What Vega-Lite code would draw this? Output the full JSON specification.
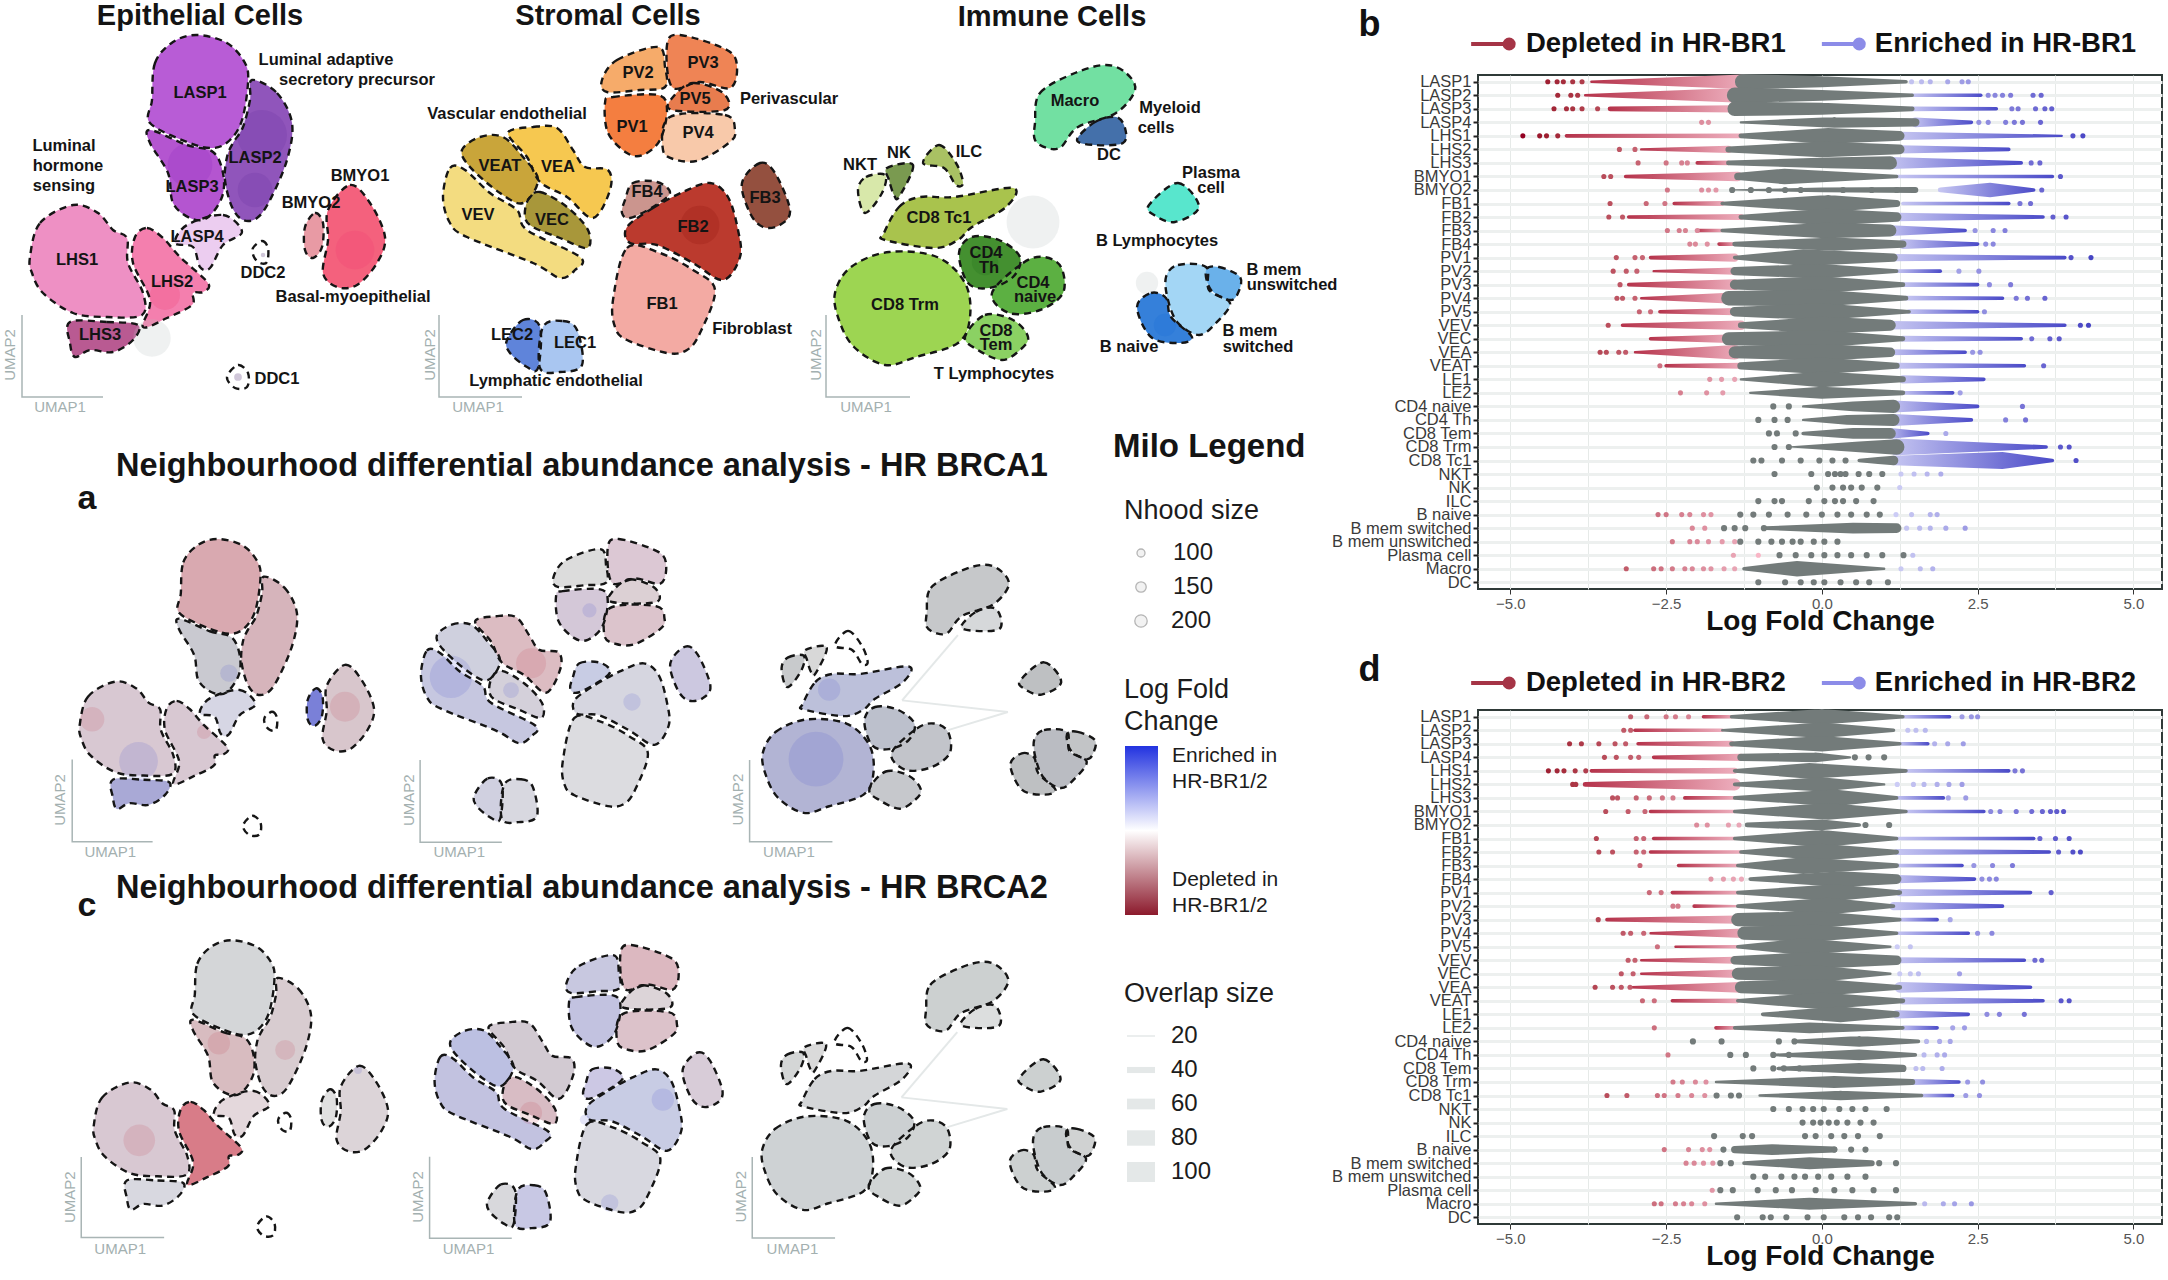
{"$schema":"https://vega.github.io/schema/vega-lite/v6.json","padding":0,"background":"white","config":{"font":"Liberation Sans","view":{"stroke":null},"legend":{"disable":true}},"datasets":{"outlines":[
{"group":"epi","region":"LASP1","n":1,"x":152,"y":100},{"group":"epi","region":"LASP1","n":2,"x":155,"y":63},{"group":"epi","region":"LASP1","n":3,"x":173,"y":42},{"group":"epi","region":"LASP1","n":4,"x":197,"y":35},{"group":"epi","region":"LASP1","n":5,"x":227,"y":43},{"group":"epi","region":"LASP1","n":6,"x":245,"y":63},{"group":"epi","region":"LASP1","n":7,"x":248,"y":83},{"group":"epi","region":"LASP1","n":8,"x":242,"y":120},{"group":"epi","region":"LASP1","n":9,"x":230,"y":140},{"group":"epi","region":"LASP1","n":10,"x":213,"y":148},{"group":"epi","region":"LASP1","n":11,"x":187,"y":142},{"group":"epi","region":"LASP1","n":12,"x":150,"y":123},
{"group":"epi","region":"LASP2","n":1,"x":252,"y":80},{"group":"epi","region":"LASP2","n":2,"x":277,"y":93},{"group":"epi","region":"LASP2","n":3,"x":292,"y":123},{"group":"epi","region":"LASP2","n":4,"x":287,"y":160},{"group":"epi","region":"LASP2","n":5,"x":270,"y":200},{"group":"epi","region":"LASP2","n":6,"x":257,"y":218},{"group":"epi","region":"LASP2","n":7,"x":243,"y":220},{"group":"epi","region":"LASP2","n":8,"x":232,"y":207},{"group":"epi","region":"LASP2","n":9,"x":225,"y":180},{"group":"epi","region":"LASP2","n":10,"x":227,"y":157},{"group":"epi","region":"LASP2","n":11,"x":233,"y":143},{"group":"epi","region":"LASP2","n":12,"x":243,"y":127},{"group":"epi","region":"LASP2","n":13,"x":250,"y":100},
{"group":"epi","region":"LASP3","n":1,"x":150,"y":130},{"group":"epi","region":"LASP3","n":2,"x":187,"y":145},{"group":"epi","region":"LASP3","n":3,"x":213,"y":152},{"group":"epi","region":"LASP3","n":4,"x":223,"y":173},{"group":"epi","region":"LASP3","n":5,"x":222,"y":197},{"group":"epi","region":"LASP3","n":6,"x":207,"y":218},{"group":"epi","region":"LASP3","n":7,"x":190,"y":218},{"group":"epi","region":"LASP3","n":8,"x":173,"y":203},{"group":"epi","region":"LASP3","n":9,"x":168,"y":173},{"group":"epi","region":"LASP3","n":10,"x":150,"y":143},
{"group":"epi","region":"LASP4","n":1,"x":187,"y":225},{"group":"epi","region":"LASP4","n":2,"x":223,"y":215},{"group":"epi","region":"LASP4","n":3,"x":242,"y":232},{"group":"epi","region":"LASP4","n":4,"x":223,"y":245},{"group":"epi","region":"LASP4","n":5,"x":210,"y":268},{"group":"epi","region":"LASP4","n":6,"x":200,"y":267},{"group":"epi","region":"LASP4","n":7,"x":193,"y":247},{"group":"epi","region":"LASP4","n":8,"x":175,"y":243},
{"group":"epi","region":"LHS1","n":1,"x":30,"y":257},{"group":"epi","region":"LHS1","n":2,"x":40,"y":223},{"group":"epi","region":"LHS1","n":3,"x":73,"y":205},{"group":"epi","region":"LHS1","n":4,"x":98,"y":213},{"group":"epi","region":"LHS1","n":5,"x":113,"y":230},{"group":"epi","region":"LHS1","n":6,"x":127,"y":238},{"group":"epi","region":"LHS1","n":7,"x":128,"y":263},{"group":"epi","region":"LHS1","n":8,"x":143,"y":293},{"group":"epi","region":"LHS1","n":9,"x":142,"y":315},{"group":"epi","region":"LHS1","n":10,"x":107,"y":317},{"group":"epi","region":"LHS1","n":11,"x":73,"y":313},{"group":"epi","region":"LHS1","n":12,"x":43,"y":293},{"group":"epi","region":"LHS1","n":13,"x":32,"y":273},
{"group":"epi","region":"LHS2","n":1,"x":135,"y":237},{"group":"epi","region":"LHS2","n":2,"x":147,"y":228},{"group":"epi","region":"LHS2","n":3,"x":163,"y":238},{"group":"epi","region":"LHS2","n":4,"x":180,"y":257},{"group":"epi","region":"LHS2","n":5,"x":208,"y":283},{"group":"epi","region":"LHS2","n":6,"x":203,"y":292},{"group":"epi","region":"LHS2","n":7,"x":193,"y":293},{"group":"epi","region":"LHS2","n":8,"x":192,"y":305},{"group":"epi","region":"LHS2","n":9,"x":167,"y":318},{"group":"epi","region":"LHS2","n":10,"x":143,"y":327},{"group":"epi","region":"LHS2","n":11,"x":150,"y":300},{"group":"epi","region":"LHS2","n":12,"x":133,"y":263},
{"group":"epi","region":"LHS3","n":1,"x":70,"y":322},{"group":"epi","region":"LHS3","n":2,"x":107,"y":322},{"group":"epi","region":"LHS3","n":3,"x":138,"y":325},{"group":"epi","region":"LHS3","n":4,"x":133,"y":340},{"group":"epi","region":"LHS3","n":5,"x":113,"y":352},{"group":"epi","region":"LHS3","n":6,"x":90,"y":350},{"group":"epi","region":"LHS3","n":7,"x":75,"y":357},{"group":"epi","region":"LHS3","n":8,"x":70,"y":343},
{"group":"epi","region":"BMYO1","n":1,"x":328,"y":210},{"group":"epi","region":"BMYO1","n":2,"x":350,"y":185},{"group":"epi","region":"BMYO1","n":3,"x":370,"y":203},{"group":"epi","region":"BMYO1","n":4,"x":385,"y":237},{"group":"epi","region":"BMYO1","n":5,"x":377,"y":263},{"group":"epi","region":"BMYO1","n":6,"x":357,"y":285},{"group":"epi","region":"BMYO1","n":7,"x":337,"y":287},{"group":"epi","region":"BMYO1","n":8,"x":323,"y":273},{"group":"epi","region":"BMYO1","n":9,"x":328,"y":240},
{"group":"epi","region":"BMYO2","n":1,"x":305,"y":227},{"group":"epi","region":"BMYO2","n":2,"x":315,"y":213},{"group":"epi","region":"BMYO2","n":3,"x":323,"y":223},{"group":"epi","region":"BMYO2","n":4,"x":322,"y":247},{"group":"epi","region":"BMYO2","n":5,"x":313,"y":258},{"group":"epi","region":"BMYO2","n":6,"x":305,"y":250},
{"group":"epi","region":"DDC2","n":1,"x":253,"y":248},{"group":"epi","region":"DDC2","n":2,"x":262,"y":241},{"group":"epi","region":"DDC2","n":3,"x":268,"y":248},{"group":"epi","region":"DDC2","n":4,"x":267,"y":262},{"group":"epi","region":"DDC2","n":5,"x":260,"y":263},{"group":"epi","region":"DDC2","n":6,"x":254,"y":257},
{"group":"epi","region":"DDC1","n":1,"x":227,"y":377},{"group":"epi","region":"DDC1","n":2,"x":238,"y":365},{"group":"epi","region":"DDC1","n":3,"x":248,"y":373},{"group":"epi","region":"DDC1","n":4,"x":247,"y":387},{"group":"epi","region":"DDC1","n":5,"x":235,"y":388},
{"group":"str","region":"VEV","n":1,"x":443,"y":197},{"group":"str","region":"VEV","n":2,"x":450,"y":168},{"group":"str","region":"VEV","n":3,"x":465,"y":170},{"group":"str","region":"VEV","n":4,"x":490,"y":193},{"group":"str","region":"VEV","n":5,"x":517,"y":210},{"group":"str","region":"VEV","n":6,"x":527,"y":230},{"group":"str","region":"VEV","n":7,"x":580,"y":257},{"group":"str","region":"VEV","n":8,"x":575,"y":270},{"group":"str","region":"VEV","n":9,"x":560,"y":278},{"group":"str","region":"VEV","n":10,"x":533,"y":263},{"group":"str","region":"VEV","n":11,"x":467,"y":237},{"group":"str","region":"VEV","n":12,"x":450,"y":223},
{"group":"str","region":"VEAT","n":1,"x":462,"y":150},{"group":"str","region":"VEAT","n":2,"x":480,"y":137},{"group":"str","region":"VEAT","n":3,"x":503,"y":137},{"group":"str","region":"VEAT","n":4,"x":523,"y":157},{"group":"str","region":"VEAT","n":5,"x":538,"y":180},{"group":"str","region":"VEAT","n":6,"x":523,"y":203},{"group":"str","region":"VEAT","n":7,"x":500,"y":193},{"group":"str","region":"VEAT","n":8,"x":470,"y":167},
{"group":"str","region":"VEA","n":1,"x":508,"y":133},{"group":"str","region":"VEA","n":2,"x":533,"y":127},{"group":"str","region":"VEA","n":3,"x":557,"y":128},{"group":"str","region":"VEA","n":4,"x":573,"y":150},{"group":"str","region":"VEA","n":5,"x":585,"y":167},{"group":"str","region":"VEA","n":6,"x":608,"y":170},{"group":"str","region":"VEA","n":7,"x":610,"y":190},{"group":"str","region":"VEA","n":8,"x":593,"y":218},{"group":"str","region":"VEA","n":9,"x":567,"y":197},{"group":"str","region":"VEA","n":10,"x":540,"y":182},{"group":"str","region":"VEA","n":11,"x":527,"y":157},
{"group":"str","region":"VEC","n":1,"x":528,"y":200},{"group":"str","region":"VEC","n":2,"x":540,"y":192},{"group":"str","region":"VEC","n":3,"x":567,"y":207},{"group":"str","region":"VEC","n":4,"x":588,"y":230},{"group":"str","region":"VEC","n":5,"x":587,"y":248},{"group":"str","region":"VEC","n":6,"x":560,"y":238},{"group":"str","region":"VEC","n":7,"x":533,"y":227},{"group":"str","region":"VEC","n":8,"x":525,"y":217},
{"group":"str","region":"PV2","n":1,"x":602,"y":80},{"group":"str","region":"PV2","n":2,"x":617,"y":60},{"group":"str","region":"PV2","n":3,"x":658,"y":47},{"group":"str","region":"PV2","n":4,"x":665,"y":67},{"group":"str","region":"PV2","n":5,"x":665,"y":87},{"group":"str","region":"PV2","n":6,"x":640,"y":90},{"group":"str","region":"PV2","n":7,"x":607,"y":92},
{"group":"str","region":"PV3","n":1,"x":667,"y":45},{"group":"str","region":"PV3","n":2,"x":680,"y":35},{"group":"str","region":"PV3","n":3,"x":727,"y":50},{"group":"str","region":"PV3","n":4,"x":737,"y":67},{"group":"str","region":"PV3","n":5,"x":730,"y":88},{"group":"str","region":"PV3","n":6,"x":700,"y":82},{"group":"str","region":"PV3","n":7,"x":672,"y":87},
{"group":"str","region":"PV5","n":1,"x":673,"y":97},{"group":"str","region":"PV5","n":2,"x":693,"y":83},{"group":"str","region":"PV5","n":3,"x":723,"y":93},{"group":"str","region":"PV5","n":4,"x":725,"y":110},{"group":"str","region":"PV5","n":5,"x":672,"y":110},
{"group":"str","region":"PV1","n":1,"x":605,"y":103},{"group":"str","region":"PV1","n":2,"x":613,"y":97},{"group":"str","region":"PV1","n":3,"x":658,"y":95},{"group":"str","region":"PV1","n":4,"x":667,"y":110},{"group":"str","region":"PV1","n":5,"x":660,"y":140},{"group":"str","region":"PV1","n":6,"x":643,"y":155},{"group":"str","region":"PV1","n":7,"x":627,"y":153},{"group":"str","region":"PV1","n":8,"x":608,"y":133},
{"group":"str","region":"PV4","n":1,"x":670,"y":117},{"group":"str","region":"PV4","n":2,"x":725,"y":115},{"group":"str","region":"PV4","n":3,"x":735,"y":130},{"group":"str","region":"PV4","n":4,"x":730,"y":142},{"group":"str","region":"PV4","n":5,"x":700,"y":160},{"group":"str","region":"PV4","n":6,"x":677,"y":160},{"group":"str","region":"PV4","n":7,"x":663,"y":150},
{"group":"str","region":"FB4","n":1,"x":625,"y":200},{"group":"str","region":"FB4","n":2,"x":633,"y":183},{"group":"str","region":"FB4","n":3,"x":657,"y":182},{"group":"str","region":"FB4","n":4,"x":670,"y":193},{"group":"str","region":"FB4","n":5,"x":653,"y":207},{"group":"str","region":"FB4","n":6,"x":630,"y":218},{"group":"str","region":"FB4","n":7,"x":622,"y":213},
{"group":"str","region":"FB2","n":1,"x":627,"y":227},{"group":"str","region":"FB2","n":2,"x":653,"y":208},{"group":"str","region":"FB2","n":3,"x":683,"y":192},{"group":"str","region":"FB2","n":4,"x":710,"y":183},{"group":"str","region":"FB2","n":5,"x":728,"y":197},{"group":"str","region":"FB2","n":6,"x":738,"y":230},{"group":"str","region":"FB2","n":7,"x":740,"y":257},{"group":"str","region":"FB2","n":8,"x":723,"y":280},{"group":"str","region":"FB2","n":9,"x":693,"y":263},{"group":"str","region":"FB2","n":10,"x":657,"y":245},{"group":"str","region":"FB2","n":11,"x":630,"y":243},
{"group":"str","region":"FB1","n":1,"x":613,"y":300},{"group":"str","region":"FB1","n":2,"x":627,"y":248},{"group":"str","region":"FB1","n":3,"x":660,"y":253},{"group":"str","region":"FB1","n":4,"x":693,"y":270},{"group":"str","region":"FB1","n":5,"x":715,"y":290},{"group":"str","region":"FB1","n":6,"x":700,"y":333},{"group":"str","region":"FB1","n":7,"x":687,"y":350},{"group":"str","region":"FB1","n":8,"x":667,"y":353},{"group":"str","region":"FB1","n":9,"x":627,"y":340},{"group":"str","region":"FB1","n":10,"x":615,"y":327},
{"group":"str","region":"FB3","n":1,"x":742,"y":183},{"group":"str","region":"FB3","n":2,"x":760,"y":163},{"group":"str","region":"FB3","n":3,"x":775,"y":173},{"group":"str","region":"FB3","n":4,"x":790,"y":210},{"group":"str","region":"FB3","n":5,"x":780,"y":225},{"group":"str","region":"FB3","n":6,"x":763,"y":227},{"group":"str","region":"FB3","n":7,"x":750,"y":213},
{"group":"str","region":"LEC2","n":1,"x":507,"y":340},{"group":"str","region":"LEC2","n":2,"x":523,"y":320},{"group":"str","region":"LEC2","n":3,"x":540,"y":327},{"group":"str","region":"LEC2","n":4,"x":538,"y":368},{"group":"str","region":"LEC2","n":5,"x":527,"y":367},{"group":"str","region":"LEC2","n":6,"x":510,"y":353},
{"group":"str","region":"LEC1","n":1,"x":543,"y":327},{"group":"str","region":"LEC1","n":2,"x":563,"y":321},{"group":"str","region":"LEC1","n":3,"x":577,"y":330},{"group":"str","region":"LEC1","n":4,"x":582,"y":365},{"group":"str","region":"LEC1","n":5,"x":560,"y":372},{"group":"str","region":"LEC1","n":6,"x":540,"y":368},
{"group":"imm","region":"CD8 Trm","n":1,"x":835,"y":293},{"group":"imm","region":"CD8 Trm","n":2,"x":851,"y":267},{"group":"imm","region":"CD8 Trm","n":3,"x":889,"y":252},{"group":"imm","region":"CD8 Trm","n":4,"x":937,"y":257},{"group":"imm","region":"CD8 Trm","n":5,"x":965,"y":283},{"group":"imm","region":"CD8 Trm","n":6,"x":970,"y":317},{"group":"imm","region":"CD8 Trm","n":7,"x":958,"y":343},{"group":"imm","region":"CD8 Trm","n":8,"x":916,"y":357},{"group":"imm","region":"CD8 Trm","n":9,"x":885,"y":365},{"group":"imm","region":"CD8 Trm","n":10,"x":854,"y":347},{"group":"imm","region":"CD8 Trm","n":11,"x":839,"y":320},
{"group":"imm","region":"CD8 Tc1","n":1,"x":884,"y":233},{"group":"imm","region":"CD8 Tc1","n":2,"x":899,"y":207},{"group":"imm","region":"CD8 Tc1","n":3,"x":920,"y":197},{"group":"imm","region":"CD8 Tc1","n":4,"x":954,"y":197},{"group":"imm","region":"CD8 Tc1","n":5,"x":1013,"y":188},{"group":"imm","region":"CD8 Tc1","n":6,"x":1006,"y":207},{"group":"imm","region":"CD8 Tc1","n":7,"x":972,"y":227},{"group":"imm","region":"CD8 Tc1","n":8,"x":958,"y":240},{"group":"imm","region":"CD8 Tc1","n":9,"x":934,"y":248},{"group":"imm","region":"CD8 Tc1","n":10,"x":885,"y":240},
{"group":"imm","region":"CD4 Th","n":1,"x":959,"y":253},{"group":"imm","region":"CD4 Th","n":2,"x":972,"y":237},{"group":"imm","region":"CD4 Th","n":3,"x":999,"y":240},{"group":"imm","region":"CD4 Th","n":4,"x":1020,"y":257},{"group":"imm","region":"CD4 Th","n":5,"x":1013,"y":277},{"group":"imm","region":"CD4 Th","n":6,"x":989,"y":288},{"group":"imm","region":"CD4 Th","n":7,"x":968,"y":283},
{"group":"imm","region":"CD4 naive","n":1,"x":992,"y":293},{"group":"imm","region":"CD4 naive","n":2,"x":1023,"y":263},{"group":"imm","region":"CD4 naive","n":3,"x":1044,"y":257},{"group":"imm","region":"CD4 naive","n":4,"x":1061,"y":267},{"group":"imm","region":"CD4 naive","n":5,"x":1063,"y":293},{"group":"imm","region":"CD4 naive","n":6,"x":1040,"y":310},{"group":"imm","region":"CD4 naive","n":7,"x":1009,"y":313},
{"group":"imm","region":"CD8 Tem","n":1,"x":965,"y":337},{"group":"imm","region":"CD8 Tem","n":2,"x":985,"y":315},{"group":"imm","region":"CD8 Tem","n":3,"x":1013,"y":320},{"group":"imm","region":"CD8 Tem","n":4,"x":1028,"y":337},{"group":"imm","region":"CD8 Tem","n":5,"x":1020,"y":350},{"group":"imm","region":"CD8 Tem","n":6,"x":1002,"y":360},{"group":"imm","region":"CD8 Tem","n":7,"x":978,"y":350},
{"group":"imm","region":"NKT","n":1,"x":858,"y":190},{"group":"imm","region":"NKT","n":2,"x":866,"y":177},{"group":"imm","region":"NKT","n":3,"x":885,"y":175},{"group":"imm","region":"NKT","n":4,"x":882,"y":193},{"group":"imm","region":"NKT","n":5,"x":865,"y":213},
{"group":"imm","region":"NK","n":1,"x":887,"y":168},{"group":"imm","region":"NK","n":2,"x":913,"y":165},{"group":"imm","region":"NK","n":3,"x":899,"y":197},{"group":"imm","region":"NK","n":4,"x":894,"y":195},{"group":"imm","region":"NK","n":5,"x":889,"y":180},
{"group":"imm","region":"ILC","n":1,"x":923,"y":163},{"group":"imm","region":"ILC","n":2,"x":939,"y":145},{"group":"imm","region":"ILC","n":3,"x":956,"y":163},{"group":"imm","region":"ILC","n":4,"x":963,"y":183},{"group":"imm","region":"ILC","n":5,"x":956,"y":185},{"group":"imm","region":"ILC","n":6,"x":944,"y":168},
{"group":"imm","region":"Macro","n":1,"x":1035,"y":123},{"group":"imm","region":"Macro","n":2,"x":1040,"y":93},{"group":"imm","region":"Macro","n":3,"x":1075,"y":73},{"group":"imm","region":"Macro","n":4,"x":1106,"y":65},{"group":"imm","region":"Macro","n":5,"x":1126,"y":73},{"group":"imm","region":"Macro","n":6,"x":1135,"y":90},{"group":"imm","region":"Macro","n":7,"x":1116,"y":113},{"group":"imm","region":"Macro","n":8,"x":1078,"y":127},{"group":"imm","region":"Macro","n":9,"x":1061,"y":147},{"group":"imm","region":"Macro","n":10,"x":1047,"y":148},{"group":"imm","region":"Macro","n":11,"x":1035,"y":140},
{"group":"imm","region":"DC","n":1,"x":1077,"y":140},{"group":"imm","region":"DC","n":2,"x":1095,"y":122},{"group":"imm","region":"DC","n":3,"x":1116,"y":117},{"group":"imm","region":"DC","n":4,"x":1125,"y":128},{"group":"imm","region":"DC","n":5,"x":1123,"y":143},{"group":"imm","region":"DC","n":6,"x":1095,"y":145},
{"group":"imm","region":"Plasma cell","n":1,"x":1149,"y":205},{"group":"imm","region":"Plasma cell","n":2,"x":1178,"y":183},{"group":"imm","region":"Plasma cell","n":3,"x":1199,"y":207},{"group":"imm","region":"Plasma cell","n":4,"x":1175,"y":222},{"group":"imm","region":"Plasma cell","n":5,"x":1154,"y":215},
{"group":"imm","region":"B naive","n":1,"x":1137,"y":307},{"group":"imm","region":"B naive","n":2,"x":1151,"y":293},{"group":"imm","region":"B naive","n":3,"x":1166,"y":298},{"group":"imm","region":"B naive","n":4,"x":1171,"y":317},{"group":"imm","region":"B naive","n":5,"x":1192,"y":337},{"group":"imm","region":"B naive","n":6,"x":1178,"y":343},{"group":"imm","region":"B naive","n":7,"x":1151,"y":337},
{"group":"imm","region":"B mem switched","n":1,"x":1166,"y":277},{"group":"imm","region":"B mem switched","n":2,"x":1178,"y":265},{"group":"imm","region":"B mem switched","n":3,"x":1206,"y":267},{"group":"imm","region":"B mem switched","n":4,"x":1209,"y":290},{"group":"imm","region":"B mem switched","n":5,"x":1230,"y":303},{"group":"imm","region":"B mem switched","n":6,"x":1216,"y":323},{"group":"imm","region":"B mem switched","n":7,"x":1199,"y":335},{"group":"imm","region":"B mem switched","n":8,"x":1178,"y":323},{"group":"imm","region":"B mem switched","n":9,"x":1168,"y":300},
{"group":"imm","region":"B mem unswitched","n":1,"x":1206,"y":270},{"group":"imm","region":"B mem unswitched","n":2,"x":1219,"y":267},{"group":"imm","region":"B mem unswitched","n":3,"x":1240,"y":277},{"group":"imm","region":"B mem unswitched","n":4,"x":1238,"y":293},{"group":"imm","region":"B mem unswitched","n":5,"x":1230,"y":300},{"group":"imm","region":"B mem unswitched","n":6,"x":1211,"y":290}
],
"spots":[{"panel":"top","tone":"grey","x":152,"y":338,"size":1400},{"panel":"top","tone":"grey","x":1033,"y":222,"size":2800},{"panel":"top","tone":"grey","x":1147,"y":283,"size":500},{"panel":"top","tone":"violet","x":190,"y":165,"size":2000},{"panel":"top","tone":"plum","x":262,"y":135,"size":2500},{"panel":"top","tone":"plum","x":255,"y":190,"size":1200},{"panel":"top","tone":"rose","x":165,"y":295,"size":900},{"panel":"top","tone":"rose","x":355,"y":250,"size":1500},{"panel":"top","tone":"brick","x":700,"y":225,"size":1500},{"panel":"top","tone":"forest","x":985,"y":262,"size":700},{"panel":"top","tone":"azure","x":1165,"y":325,"size":500},{"panel":"top","tone":"ink","x":238,"y":377,"size":60},{"panel":"top","tone":"ink","x":263,"y":255,"size":20},
{"panel":"epi2","tone":"blue","x":101,"y":300,"size":1500},{"panel":"epi2","tone":"red","x":45,"y":250,"size":600},{"panel":"epi2","tone":"blue","x":210,"y":195,"size":300},{"panel":"epi2","tone":"red","x":350,"y":235,"size":900},{"panel":"epi2","tone":"red","x":180,"y":265,"size":200},
{"panel":"str2","tone":"blue","x":479,"y":199,"size":1800},{"panel":"str2","tone":"red","x":575,"y":183,"size":900},{"panel":"str2","tone":"blue","x":645,"y":120,"size":200},{"panel":"str2","tone":"blue","x":696,"y":229,"size":300},{"panel":"str2","tone":"blue","x":551,"y":215,"size":250},
{"panel":"imm2","tone":"blue","x":900,"y":300,"size":3000},{"panel":"imm2","tone":"blue","x":916,"y":216,"size":500},
{"panel":"epi3","tone":"red","x":85,"y":274,"size":1000},{"panel":"epi3","tone":"red","x":181,"y":158,"size":500},{"panel":"epi3","tone":"red","x":261,"y":166,"size":400},{"panel":"epi3","tone":"blue","x":349,"y":190,"size":60},
{"panel":"str3","tone":"red","x":559,"y":235,"size":500},{"panel":"str3","tone":"blue","x":624,"y":243,"size":100},{"panel":"str3","tone":"blue","x":718,"y":219,"size":500},{"panel":"str3","tone":"blue","x":654,"y":342,"size":300}],
"umapAxes":[{"panel":"a","n":1,"x":22,"y":315},{"panel":"a","n":2,"x":22,"y":397},{"panel":"a","n":3,"x":103,"y":397},{"panel":"b","n":1,"x":439,"y":315},{"panel":"b","n":2,"x":439,"y":397},{"panel":"b","n":3,"x":522,"y":397},{"panel":"c","n":1,"x":826,"y":315},{"panel":"c","n":2,"x":826,"y":397},{"panel":"c","n":3,"x":910,"y":397},
{"panel":"epi2","n":1,"x":21,"y":298},{"panel":"epi2","n":2,"x":21,"y":396},{"panel":"epi2","n":3,"x":118,"y":396},{"panel":"epi3","n":1,"x":15,"y":294},{"panel":"epi3","n":2,"x":15,"y":390},{"panel":"epi3","n":3,"x":115,"y":390},{"panel":"str2","n":1,"x":442,"y":298},{"panel":"str2","n":2,"x":442,"y":396},{"panel":"str2","n":3,"x":540,"y":396},{"panel":"str3","n":1,"x":437,"y":287},{"panel":"str3","n":2,"x":437,"y":384},{"panel":"str3","n":3,"x":536,"y":384},{"panel":"imm2","n":1,"x":819,"y":301},{"panel":"imm2","n":2,"x":819,"y":400},{"panel":"imm2","n":3,"x":920,"y":400},{"panel":"imm3","n":1,"x":823,"y":301},{"panel":"imm3","n":2,"x":823,"y":399},{"panel":"imm3","n":3,"x":924,"y":399}],
"umapLabels":[{"panel":"top","axis":"UMAP2","x":10,"y":355},{"panel":"top","axis":"UMAP1","x":60,"y":407},{"panel":"top","axis":"UMAP2","x":430,"y":355},{"panel":"top","axis":"UMAP1","x":478,"y":407},{"panel":"top","axis":"UMAP2","x":816,"y":355},{"panel":"top","axis":"UMAP1","x":866,"y":407},
{"panel":"epi2","axis":"UMAP2","x":6,"y":346},{"panel":"epi2","axis":"UMAP1","x":67,"y":408},{"panel":"str2","axis":"UMAP2","x":429,"y":346},{"panel":"str2","axis":"UMAP1","x":489,"y":408},{"panel":"imm2","axis":"UMAP2","x":805,"y":349},{"panel":"imm2","axis":"UMAP1","x":867,"y":412},{"panel":"epi3","axis":"UMAP2","x":1,"y":342},{"panel":"epi3","axis":"UMAP1","x":62,"y":404},{"panel":"str3","axis":"UMAP2","x":423,"y":335},{"panel":"str3","axis":"UMAP1","x":484,"y":397},{"panel":"imm3","axis":"UMAP2","x":809,"y":349},{"panel":"imm3","axis":"UMAP1","x":872,"y":412}],
"edges":[{"edge":1,"n":1,"x":1073,"y":150},{"edge":1,"n":2,"x":1005,"y":229},{"edge":2,"n":1,"x":1134,"y":243},{"edge":2,"n":2,"x":1005,"y":229},{"edge":3,"n":1,"x":1134,"y":243},{"edge":3,"n":2,"x":1061,"y":265}],
"labels":[{"text":"Epithelial Cells","x":200,"y":16,"kind":"title"},{"text":"Stromal Cells","x":608,"y":16,"kind":"title"},{"text":"Immune Cells","x":1052,"y":17,"kind":"title"},{"text":"Luminal adaptive","x":326,"y":60,"kind":"label"},{"text":"secretory precursor","x":357,"y":80,"kind":"label"},{"text":"Luminal","x":64,"y":146,"kind":"label"},{"text":"hormone","x":68,"y":166,"kind":"label"},{"text":"sensing","x":64,"y":186,"kind":"label"},{"text":"LASP1","x":200,"y":93,"kind":"label"},{"text":"LASP2","x":255,"y":158,"kind":"label"},{"text":"LASP3","x":192,"y":187,"kind":"label"},{"text":"LASP4","x":197,"y":237,"kind":"label"},{"text":"LHS1","x":77,"y":260,"kind":"label"},{"text":"LHS2","x":172,"y":282,"kind":"label"},{"text":"LHS3","x":100,"y":335,"kind":"label"},{"text":"BMYO1","x":360,"y":176,"kind":"label"},{"text":"BMYO2","x":311,"y":203,"kind":"label"},{"text":"DDC2","x":263,"y":273,"kind":"label"},{"text":"DDC1","x":277,"y":379,"kind":"label"},{"text":"Basal-myoepithelial","x":353,"y":297,"kind":"label"},{"text":"Vascular endothelial","x":507,"y":114,"kind":"label"},{"text":"PV2","x":638,"y":73,"kind":"label"},{"text":"PV3","x":703,"y":63,"kind":"label"},{"text":"PV5","x":695,"y":99,"kind":"label"},{"text":"PV1","x":632,"y":127,"kind":"label"},{"text":"PV4","x":698,"y":133,"kind":"label"},{"text":"Perivascular","x":789,"y":99,"kind":"label"},{"text":"VEAT","x":500,"y":166,"kind":"label"},{"text":"VEA","x":558,"y":167,"kind":"label"},{"text":"VEV","x":478,"y":215,"kind":"label"},{"text":"VEC","x":552,"y":220,"kind":"label"},{"text":"FB4","x":647,"y":192,"kind":"label"},{"text":"FB2","x":693,"y":227,"kind":"label"},{"text":"FB3","x":765,"y":198,"kind":"label"},{"text":"FB1","x":662,"y":304,"kind":"label"},{"text":"Fibroblast","x":752,"y":329,"kind":"label"},{"text":"LEC2","x":512,"y":335,"kind":"label"},{"text":"LEC1","x":575,"y":343,"kind":"label"},{"text":"Lymphatic endothelial","x":556,"y":381,"kind":"label"},{"text":"Macro","x":1075,"y":101,"kind":"label"},{"text":"Myeloid","x":1170,"y":108,"kind":"label"},{"text":"cells","x":1156,"y":128,"kind":"label"},{"text":"DC","x":1109,"y":155,"kind":"label"},{"text":"NKT","x":860,"y":165,"kind":"label"},{"text":"NK","x":899,"y":153,"kind":"label"},{"text":"ILC","x":969,"y":152,"kind":"label"},{"text":"Plasma","x":1211,"y":173,"kind":"label"},{"text":"cell","x":1211,"y":188,"kind":"label"},{"text":"CD8 Tc1","x":939,"y":218,"kind":"label"},{"text":"B Lymphocytes","x":1157,"y":241,"kind":"label"},{"text":"CD4","x":986,"y":253,"kind":"label"},{"text":"Th","x":989,"y":268,"kind":"label"},{"text":"CD4","x":1033,"y":283,"kind":"label"},{"text":"naive","x":1035,"y":297,"kind":"label"},{"text":"CD8 Trm","x":905,"y":305,"kind":"label"},{"text":"CD8","x":996,"y":331,"kind":"label"},{"text":"Tem","x":996,"y":345,"kind":"label"},{"text":"T Lymphocytes","x":994,"y":374,"kind":"label"},{"text":"B mem","x":1274,"y":270,"kind":"label"},{"text":"unswitched","x":1292,"y":285,"kind":"label"},{"text":"B naive","x":1129,"y":347,"kind":"label"},{"text":"B mem","x":1250,"y":331,"kind":"label"},{"text":"switched","x":1258,"y":347,"kind":"label"}],
"legendText":[{"text":"Nhood size","x":1121,"y":511,"kind":"sub"},{"text":"100","x":1170,"y":553,"kind":"item"},{"text":"150","x":1170,"y":587,"kind":"item"},{"text":"200","x":1168,"y":621,"kind":"item"},{"text":"Log Fold","x":1121,"y":690,"kind":"sub"},{"text":"Change","x":1121,"y":722,"kind":"sub"},{"text":"Enriched in","x":1169,"y":756,"kind":"note"},{"text":"HR-BR1/2","x":1169,"y":782,"kind":"note"},{"text":"Depleted in","x":1169,"y":880,"kind":"note"},{"text":"HR-BR1/2","x":1169,"y":906,"kind":"note"},{"text":"Overlap size","x":1121,"y":994,"kind":"sub"},{"text":"20","x":1168,"y":1036,"kind":"item"},{"text":"40","x":1168,"y":1070,"kind":"item"},{"text":"60","x":1168,"y":1104,"kind":"item"},{"text":"80","x":1168,"y":1138,"kind":"item"},{"text":"100","x":1168,"y":1172,"kind":"item"}],
"bGrey":[{"row":"LASP1","lfc":-1.27,"w":13},{"row":"LASP1","lfc":0,"w":9},{"row":"LASP1","lfc":1.35,"w":3},{"row":"LASP2","lfc":-1.4,"w":13},{"row":"LASP2","lfc":0,"w":9},{"row":"LASP2","lfc":1.45,"w":3},{"row":"LASP3","lfc":-1.4,"w":12},{"row":"LASP3","lfc":0,"w":10},{"row":"LASP3","lfc":1.45,"w":4},{"row":"LASP4","lfc":-1.3,"w":2},{"row":"LASP4","lfc":0.2,"w":9},{"row":"LASP4","lfc":1.5,"w":7},{"row":"LHS1","lfc":-1.3,"w":4},{"row":"LHS1","lfc":0.1,"w":13},{"row":"LHS1","lfc":1.25,"w":8},{"row":"LHS2","lfc":-1.5,"w":5},{"row":"LHS2","lfc":0,"w":13},{"row":"LHS2","lfc":1.25,"w":8},{"row":"LHS3","lfc":-1.5,"w":4},{"row":"LHS3","lfc":0.1,"w":9},{"row":"LHS3","lfc":1.1,"w":11},{"row":"BMYO1","lfc":-1.35,"w":6},{"row":"BMYO1","lfc":-0.6,"w":13},{"row":"BMYO1","lfc":1.2,"w":3},{"row":"BMYO2","lfc":-1.4,"w":1},{"row":"BMYO2","lfc":0,"w":4},{"row":"BMYO2","lfc":1.5,"w":5},{"row":"FB1","lfc":-1.6,"w":3},{"row":"FB1","lfc":0.1,"w":14},{"row":"FB1","lfc":1.2,"w":6},{"row":"FB2","lfc":-1.3,"w":4},{"row":"FB2","lfc":0.1,"w":14},{"row":"FB2","lfc":1.2,"w":8},{"row":"FB3","lfc":-1.6,"w":3},{"row":"FB3","lfc":0.05,"w":13},{"row":"FB3","lfc":1.1,"w":10},{"row":"FB4","lfc":-1.4,"w":4},{"row":"FB4","lfc":0.2,"w":11},{"row":"FB4","lfc":1.3,"w":6},{"row":"PV1","lfc":-1.4,"w":3},{"row":"PV1","lfc":-0.3,"w":14},{"row":"PV1","lfc":1.15,"w":7},{"row":"PV2","lfc":-1.4,"w":7},{"row":"PV2","lfc":0,"w":12},{"row":"PV2","lfc":1.2,"w":3},{"row":"PV3","lfc":-1.4,"w":8},{"row":"PV3","lfc":0,"w":14},{"row":"PV3","lfc":1.3,"w":4},{"row":"PV4","lfc":-1.5,"w":12},{"row":"PV4","lfc":0,"w":14},{"row":"PV4","lfc":1.35,"w":4},{"row":"PV5","lfc":-1.4,"w":8},{"row":"PV5","lfc":0,"w":14},{"row":"PV5","lfc":1.4,"w":3},{"row":"VEV","lfc":-1.3,"w":5},{"row":"VEV","lfc":0,"w":14},{"row":"VEV","lfc":1.1,"w":9},{"row":"VEC","lfc":-1.5,"w":11},{"row":"VEC","lfc":0,"w":14},{"row":"VEC","lfc":1.3,"w":4},{"row":"VEA","lfc":-1.4,"w":10},{"row":"VEA","lfc":0,"w":14},{"row":"VEA","lfc":1.1,"w":8},{"row":"VEAT","lfc":-1.3,"w":6},{"row":"VEAT","lfc":0,"w":14},{"row":"VEAT","lfc":1.2,"w":5},{"row":"LE1","lfc":-1.3,"w":2},{"row":"LE1","lfc":0,"w":13},{"row":"LE1","lfc":1.3,"w":5},{"row":"LE2","lfc":-1.15,"w":2},{"row":"LE2","lfc":0,"w":10},{"row":"LE2","lfc":1.3,"w":4},{"row":"CD4 naive","lfc":-0.3,"w":2},{"row":"CD4 naive","lfc":0.5,"w":8},{"row":"CD4 naive","lfc":1.15,"w":11},{"row":"CD4 Th","lfc":-0.3,"w":2},{"row":"CD4 Th","lfc":0.4,"w":8},{"row":"CD4 Th","lfc":1.15,"w":10},{"row":"CD8 Tem","lfc":-0.3,"w":3},{"row":"CD8 Tem","lfc":0.5,"w":9},{"row":"CD8 Tem","lfc":1.1,"w":9},{"row":"CD8 Trm","lfc":-0.5,"w":1},{"row":"CD8 Trm","lfc":0.6,"w":9},{"row":"CD8 Trm","lfc":1.2,"w":13},{"row":"CD8 Tc1","lfc":0.6,"w":3},{"row":"CD8 Tc1","lfc":0.9,"w":6},{"row":"CD8 Tc1","lfc":1.15,"w":8},{"row":"B mem switched","lfc":-0.9,"w":3},{"row":"B mem switched","lfc":0.5,"w":9},{"row":"B mem switched","lfc":1.2,"w":8},{"row":"Macro","lfc":-1.25,"w":3},{"row":"Macro","lfc":-0.4,"w":13},{"row":"Macro","lfc":1,"w":2}],
"bDep":[{"row":"LASP1","lfc":-1.27,"w":12},{"row":"LASP1","lfc":-3.7,"w":2},{"row":"LASP2","lfc":-1.4,"w":12},{"row":"LASP2","lfc":-3.8,"w":2},{"row":"LASP3","lfc":-1.4,"w":6},{"row":"LASP3","lfc":-3.4,"w":4},{"row":"LHS1","lfc":-1.3,"w":4},{"row":"LHS1","lfc":-4.1,"w":3},{"row":"LHS2","lfc":-1.5,"w":6},{"row":"LHS2","lfc":-2.9,"w":2},{"row":"LHS3","lfc":-1.5,"w":4},{"row":"LHS3","lfc":-2,"w":3},{"row":"BMYO1","lfc":-1.35,"w":8},{"row":"BMYO1","lfc":-3.15,"w":3},{"row":"FB1","lfc":-1.6,"w":4},{"row":"FB1","lfc":-2.37,"w":3},{"row":"FB2","lfc":-1.3,"w":5},{"row":"FB2","lfc":-3.1,"w":3},{"row":"FB3","lfc":-1.6,"w":3},{"row":"FB3","lfc":-2,"w":3},{"row":"FB4","lfc":-1.4,"w":3},{"row":"FB4","lfc":-1.65,"w":3},{"row":"PV1","lfc":-1.4,"w":7},{"row":"PV1","lfc":-2.75,"w":3},{"row":"PV2","lfc":-1.4,"w":6},{"row":"PV2","lfc":-2.7,"w":2},{"row":"PV3","lfc":-1.4,"w":9},{"row":"PV3","lfc":-3.1,"w":3},{"row":"PV4","lfc":-1.5,"w":9},{"row":"PV4","lfc":-2.9,"w":2},{"row":"PV5","lfc":-1.4,"w":6},{"row":"PV5","lfc":-2.6,"w":3},{"row":"VEV","lfc":-1.3,"w":8},{"row":"VEV","lfc":-3.2,"w":3},{"row":"VEC","lfc":-1.5,"w":7},{"row":"VEC","lfc":-2.75,"w":3},{"row":"VEA","lfc":-1.4,"w":12},{"row":"VEA","lfc":-3,"w":2},{"row":"VEAT","lfc":-1.3,"w":5},{"row":"VEAT","lfc":-2.5,"w":3}],
"bEnr":[{"row":"LASP2","lfc":1.45,"w":3},{"row":"LASP2","lfc":2.55,"w":3},{"row":"LASP3","lfc":1.45,"w":4},{"row":"LASP3","lfc":2.8,"w":3},{"row":"LASP4","lfc":1.5,"w":8},{"row":"LASP4","lfc":2.4,"w":3},{"row":"LHS1","lfc":1.25,"w":7},{"row":"LHS1","lfc":3.85,"w":2},{"row":"LHS2","lfc":1.25,"w":7},{"row":"LHS2","lfc":3,"w":3},{"row":"LHS3","lfc":1.1,"w":10},{"row":"LHS3","lfc":3.2,"w":3},{"row":"BMYO1","lfc":1.2,"w":3},{"row":"BMYO1","lfc":3.7,"w":3},{"row":"BMYO2","lfc":1.9,"w":4},{"row":"BMYO2","lfc":2.7,"w":12},{"row":"BMYO2","lfc":3.4,"w":3},{"row":"FB1","lfc":1.3,"w":3},{"row":"FB1","lfc":3,"w":3},{"row":"FB2","lfc":1.2,"w":7},{"row":"FB2","lfc":3.55,"w":3},{"row":"FB3","lfc":1.1,"w":9},{"row":"FB3","lfc":2.3,"w":3},{"row":"FB4","lfc":1.3,"w":8},{"row":"FB4","lfc":2.5,"w":3},{"row":"PV1","lfc":1.15,"w":6},{"row":"PV1","lfc":3.9,"w":3},{"row":"PV2","lfc":1.2,"w":3},{"row":"PV2","lfc":1.9,"w":3},{"row":"PV3","lfc":1.3,"w":4},{"row":"PV3","lfc":2.5,"w":3},{"row":"PV4","lfc":1.35,"w":4},{"row":"PV4","lfc":2.9,"w":3},{"row":"PV5","lfc":1.4,"w":4},{"row":"PV5","lfc":2.5,"w":3},{"row":"VEV","lfc":1.1,"w":7},{"row":"VEV","lfc":3.9,"w":3},{"row":"VEC","lfc":1.3,"w":5},{"row":"VEC","lfc":3.2,"w":3},{"row":"VEA","lfc":1.1,"w":5},{"row":"VEA","lfc":2.3,"w":3},{"row":"VEAT","lfc":1.2,"w":5},{"row":"VEAT","lfc":3.25,"w":3},{"row":"LE1","lfc":1.3,"w":7},{"row":"LE1","lfc":2.6,"w":3},{"row":"LE2","lfc":1.3,"w":3},{"row":"LE2","lfc":2.1,"w":3},{"row":"CD4 naive","lfc":1.15,"w":10},{"row":"CD4 naive","lfc":2.5,"w":3},{"row":"CD4 Th","lfc":1.15,"w":10},{"row":"CD4 Th","lfc":2.4,"w":3},{"row":"CD8 Tem","lfc":1.1,"w":9},{"row":"CD8 Tem","lfc":1.7,"w":3},{"row":"CD8 Trm","lfc":1.2,"w":14},{"row":"CD8 Trm","lfc":3.6,"w":3},{"row":"CD8 Tc1","lfc":1.15,"w":8},{"row":"CD8 Tc1","lfc":2.9,"w":14},{"row":"CD8 Tc1","lfc":3.7,"w":3}],
"bDots":[{"row":"LASP1","lfc":-4.4},{"row":"LASP1","lfc":-4.25},{"row":"LASP1","lfc":-4.15},{"row":"LASP1","lfc":-4},{"row":"LASP1","lfc":-3.85},{"row":"LASP2","lfc":-4.24},{"row":"LASP2","lfc":-4.03},{"row":"LASP2","lfc":-3.92},{"row":"LASP3","lfc":-4.3},{"row":"LASP3","lfc":-4.1},{"row":"LASP3","lfc":-4},{"row":"LASP3","lfc":-3.85},{"row":"LASP3","lfc":-3.6},{"row":"LASP4","lfc":-1.93},{"row":"LASP4","lfc":-1.82},{"row":"LHS1","lfc":-4.8},{"row":"LHS1","lfc":-4.53},{"row":"LHS1","lfc":-4.42},{"row":"LHS1","lfc":-4.24},{"row":"LHS2","lfc":-3.25},{"row":"LHS2","lfc":-3},{"row":"LHS3","lfc":-2.95},{"row":"LHS3","lfc":-2.5},{"row":"LHS3","lfc":-2.25},{"row":"LHS3","lfc":-2.16},{"row":"BMYO1","lfc":-3.5},{"row":"BMYO1","lfc":-3.39},{"row":"BMYO2","lfc":-2.48},{"row":"BMYO2","lfc":-1.93},{"row":"BMYO2","lfc":-1.82},{"row":"BMYO2","lfc":-1.7},{"row":"FB1","lfc":-3.4},{"row":"FB1","lfc":-2.82},{"row":"FB1","lfc":-2.52},{"row":"FB2","lfc":-3.42},{"row":"FB2","lfc":-3.2},{"row":"FB3","lfc":-2.48},{"row":"FB3","lfc":-2.29},{"row":"FB3","lfc":-2.19},{"row":"FB3","lfc":-2},{"row":"FB4","lfc":-2.12},{"row":"FB4","lfc":-2.03},{"row":"FB4","lfc":-1.84},{"row":"PV1","lfc":-3.3},{"row":"PV1","lfc":-3},{"row":"PV1","lfc":-2.88},{"row":"PV2","lfc":-3.35},{"row":"PV2","lfc":-3.14},{"row":"PV2","lfc":-2.97},{"row":"PV3","lfc":-3.24},{"row":"PV4","lfc":-3.29},{"row":"PV4","lfc":-3.2},{"row":"PV4","lfc":-3},{"row":"PV5","lfc":-2.93},{"row":"PV5","lfc":-2.75},{"row":"VEV","lfc":-3.43},{"row":"VEA","lfc":-3.56},{"row":"VEA","lfc":-3.46},{"row":"VEA","lfc":-3.26},{"row":"VEA","lfc":-3.15},{"row":"VEAT","lfc":-2.6},{"row":"LE1","lfc":-1.8},{"row":"LE1","lfc":-1.61},{"row":"LE1","lfc":-1.4},{"row":"LE2","lfc":-2.27},{"row":"LE2","lfc":-1.85},{"row":"LE2","lfc":-1.59},{"row":"B naive","lfc":-2.63},{"row":"B naive","lfc":-2.5},{"row":"B naive","lfc":-2.25},{"row":"B naive","lfc":-2.12},{"row":"B naive","lfc":-1.9},{"row":"B naive","lfc":-1.78},{"row":"B mem switched","lfc":-2.08},{"row":"B mem switched","lfc":-1.88},{"row":"B mem unswitched","lfc":-2.4},{"row":"B mem unswitched","lfc":-2.12},{"row":"B mem unswitched","lfc":-2},{"row":"B mem unswitched","lfc":-1.82},{"row":"B mem unswitched","lfc":-1.6},{"row":"B mem unswitched","lfc":-1.4},{"row":"Plasma cell","lfc":-1.42},{"row":"Plasma cell","lfc":-1.02},{"row":"Macro","lfc":-3.14},{"row":"Macro","lfc":-2.7},{"row":"Macro","lfc":-2.58},{"row":"Macro","lfc":-2.4},{"row":"Macro","lfc":-2.2},{"row":"Macro","lfc":-2.08},{"row":"Macro","lfc":-1.9},{"row":"Macro","lfc":-1.78},{"row":"Macro","lfc":-1.57},{"row":"Macro","lfc":-1.4},
{"row":"LASP1","lfc":1.44},{"row":"LASP1","lfc":1.6},{"row":"LASP1","lfc":1.74},{"row":"LASP1","lfc":2.02},{"row":"LASP1","lfc":2.25},{"row":"LASP1","lfc":2.35},{"row":"LASP2","lfc":2.67},{"row":"LASP2","lfc":2.78},{"row":"LASP2","lfc":2.9},{"row":"LASP2","lfc":3.03},{"row":"LASP2","lfc":3.39},{"row":"LASP2","lfc":3.52},{"row":"LASP3","lfc":3.05},{"row":"LASP3","lfc":3.15},{"row":"LASP3","lfc":3.43},{"row":"LASP3","lfc":3.58},{"row":"LASP3","lfc":3.69},{"row":"LASP4","lfc":2.52},{"row":"LASP4","lfc":2.67},{"row":"LASP4","lfc":2.95},{"row":"LASP4","lfc":3.09},{"row":"LASP4","lfc":3.22},{"row":"LASP4","lfc":3.51},{"row":"LHS1","lfc":4.03},{"row":"LHS1","lfc":4.19},{"row":"LHS3","lfc":3.36},{"row":"LHS3","lfc":3.5},{"row":"BMYO1","lfc":3.83},{"row":"BMYO2","lfc":3.53},{"row":"FB1","lfc":3.18},{"row":"FB1","lfc":3.35},{"row":"FB2","lfc":3.71},{"row":"FB2","lfc":3.92},{"row":"FB3","lfc":2.46},{"row":"FB3","lfc":2.75},{"row":"FB3","lfc":2.94},{"row":"FB4","lfc":2.63},{"row":"FB4","lfc":2.75},{"row":"PV1","lfc":4},{"row":"PV1","lfc":4.32},{"row":"PV2","lfc":2.2},{"row":"PV2","lfc":2.52},{"row":"PV3","lfc":2.69},{"row":"PV3","lfc":3.03},{"row":"PV4","lfc":3.12},{"row":"PV4","lfc":3.3},{"row":"PV4","lfc":3.58},{"row":"PV5","lfc":2.61},{"row":"VEV","lfc":4.15},{"row":"VEV","lfc":4.28},{"row":"VEC","lfc":3.37},{"row":"VEC","lfc":3.66},{"row":"VEC","lfc":3.81},{"row":"VEA","lfc":2.42},{"row":"VEA","lfc":2.54},{"row":"VEAT","lfc":3.56},{"row":"LE2","lfc":2.22},{"row":"CD4 naive","lfc":3.22},{"row":"CD4 Th","lfc":2.95},{"row":"CD4 Th","lfc":3.27},{"row":"CD8 Tem","lfc":1.99},{"row":"CD8 Trm","lfc":3.83},{"row":"CD8 Trm","lfc":3.97},{"row":"CD8 Tc1","lfc":4.08},{"row":"NKT","lfc":1.27},{"row":"NKT","lfc":1.48},{"row":"NKT","lfc":1.69},{"row":"NKT","lfc":1.91},{"row":"NK","lfc":1.25},{"row":"B naive","lfc":1.19},{"row":"B naive","lfc":1.44},{"row":"B naive","lfc":1.74},{"row":"B naive","lfc":1.85},{"row":"B mem switched","lfc":1.36},{"row":"B mem switched","lfc":1.57},{"row":"B mem switched","lfc":1.74},{"row":"B mem switched","lfc":1.99},{"row":"B mem switched","lfc":2.3},{"row":"Plasma cell","lfc":1.46},{"row":"Macro","lfc":1.27},{"row":"Macro","lfc":1.58},{"row":"Macro","lfc":1.78}],
"bGreyDots":[{"row":"NKT","lfc":-0.76},{"row":"NKT","lfc":-0.17},{"row":"NKT","lfc":0.1},{"row":"NKT","lfc":0.21},{"row":"NKT","lfc":0.3},{"row":"NKT","lfc":0.38},{"row":"NKT","lfc":0.59},{"row":"NKT","lfc":0.76},{"row":"NKT","lfc":0.97},{"row":"NK","lfc":-0.08},{"row":"NK","lfc":0.17},{"row":"NK","lfc":0.34},{"row":"NK","lfc":0.47},{"row":"NK","lfc":0.64},{"row":"NK","lfc":0.89},{"row":"ILC","lfc":-1.02},{"row":"ILC","lfc":-0.76},{"row":"ILC","lfc":-0.64},{"row":"ILC","lfc":-0.21},{"row":"ILC","lfc":0.04},{"row":"ILC","lfc":0.21},{"row":"ILC","lfc":0.34},{"row":"ILC","lfc":0.55},{"row":"ILC","lfc":0.83},{"row":"B naive","lfc":-1.31},{"row":"B naive","lfc":-1.1},{"row":"B naive","lfc":-0.85},{"row":"B naive","lfc":-0.55},{"row":"B naive","lfc":-0.25},{"row":"B naive","lfc":0},{"row":"B naive","lfc":0.25},{"row":"B naive","lfc":0.47},{"row":"B naive","lfc":0.72},{"row":"B naive","lfc":0.93},{"row":"B mem switched","lfc":-1.57},{"row":"B mem switched","lfc":-1.4},{"row":"B mem switched","lfc":-1.23},{"row":"B mem switched","lfc":-0.93},{"row":"B mem unswitched","lfc":-1.31},{"row":"B mem unswitched","lfc":-1.02},{"row":"B mem unswitched","lfc":-0.81},{"row":"B mem unswitched","lfc":-0.64},{"row":"B mem unswitched","lfc":-0.47},{"row":"B mem unswitched","lfc":-0.34},{"row":"B mem unswitched","lfc":-0.13},{"row":"B mem unswitched","lfc":0.04},{"row":"B mem unswitched","lfc":0.25},{"row":"Plasma cell","lfc":-0.68},{"row":"Plasma cell","lfc":-0.42},{"row":"Plasma cell","lfc":-0.17},{"row":"Plasma cell","lfc":0.04},{"row":"Plasma cell","lfc":0.25},{"row":"Plasma cell","lfc":0.47},{"row":"Plasma cell","lfc":0.72},{"row":"Plasma cell","lfc":0.97},{"row":"Plasma cell","lfc":1.31},{"row":"DC","lfc":-1.02},{"row":"DC","lfc":-0.59},{"row":"DC","lfc":-0.34},{"row":"DC","lfc":-0.13},{"row":"DC","lfc":0.04},{"row":"DC","lfc":0.3},{"row":"DC","lfc":0.55},{"row":"DC","lfc":0.76},{"row":"DC","lfc":1.06},{"row":"CD4 naive","lfc":-0.78},{"row":"CD4 naive","lfc":-0.53},{"row":"CD4 Th","lfc":-1.02},{"row":"CD4 Th","lfc":-0.76},{"row":"CD4 Th","lfc":-0.55},{"row":"CD8 Tem","lfc":-0.85},{"row":"CD8 Tem","lfc":-0.72},{"row":"CD8 Tem","lfc":-0.42},{"row":"CD8 Trm","lfc":-0.76},{"row":"CD8 Trm","lfc":-0.53},{"row":"CD8 Tc1","lfc":-1.1},{"row":"CD8 Tc1","lfc":-0.97},{"row":"CD8 Tc1","lfc":-0.64},{"row":"CD8 Tc1","lfc":-0.34},{"row":"CD8 Tc1","lfc":-0.04},{"row":"CD8 Tc1","lfc":0.17},{"row":"CD8 Tc1","lfc":0.38},{"row":"BMYO2","lfc":-1.44},{"row":"BMYO2","lfc":-1.14},{"row":"BMYO2","lfc":-0.85},{"row":"BMYO2","lfc":-0.59},{"row":"BMYO2","lfc":-0.34},{"row":"BMYO2","lfc":0.34},{"row":"BMYO2","lfc":0.8},{"row":"BMYO2","lfc":1.2}],
"dGrey":[{"row":"LASP1","lfc":-1.45,"w":3},{"row":"LASP1","lfc":0,"w":13},{"row":"LASP1","lfc":1.3,"w":3},{"row":"LASP2","lfc":-1.6,"w":2},{"row":"LASP2","lfc":0,"w":13},{"row":"LASP2","lfc":1.15,"w":3},{"row":"LASP3","lfc":-1.45,"w":4},{"row":"LASP3","lfc":0,"w":13},{"row":"LASP3","lfc":1.25,"w":3},{"row":"LASP4","lfc":-1.3,"w":6},{"row":"LASP4","lfc":-0.1,"w":8},{"row":"LASP4","lfc":0.45,"w":2},{"row":"LHS1","lfc":-1.4,"w":3},{"row":"LHS1","lfc":-0.2,"w":13},{"row":"LHS1","lfc":1.35,"w":3},{"row":"LHS2","lfc":-1.4,"w":3},{"row":"LHS2","lfc":0,"w":12},{"row":"LHS2","lfc":1,"w":2},{"row":"LHS3","lfc":-1.4,"w":3},{"row":"LHS3","lfc":0.2,"w":14},{"row":"LHS3","lfc":1.2,"w":3},{"row":"BMYO1","lfc":-1.4,"w":3},{"row":"BMYO1","lfc":0.1,"w":14},{"row":"BMYO1","lfc":1.35,"w":3},{"row":"BMYO2","lfc":-1.2,"w":4},{"row":"BMYO2","lfc":0,"w":9},{"row":"BMYO2","lfc":0.6,"w":3},{"row":"FB1","lfc":-1.4,"w":3},{"row":"FB1","lfc":0,"w":14},{"row":"FB1","lfc":1.2,"w":3},{"row":"FB2","lfc":-1.3,"w":3},{"row":"FB2","lfc":0,"w":14},{"row":"FB2","lfc":1.2,"w":4},{"row":"FB3","lfc":-1.35,"w":3},{"row":"FB3","lfc":-0.3,"w":14},{"row":"FB3","lfc":1.2,"w":4},{"row":"FB4","lfc":-1.15,"w":3},{"row":"FB4","lfc":0.3,"w":13},{"row":"FB4","lfc":1.2,"w":8},{"row":"PV1","lfc":-1.35,"w":3},{"row":"PV1","lfc":0.2,"w":14},{"row":"PV1","lfc":1.25,"w":4},{"row":"PV2","lfc":-1.35,"w":3},{"row":"PV2","lfc":0.1,"w":14},{"row":"PV2","lfc":1.15,"w":3},{"row":"PV3","lfc":-1.35,"w":11},{"row":"PV3","lfc":-0.1,"w":14},{"row":"PV3","lfc":1.25,"w":3},{"row":"PV4","lfc":-1.25,"w":11},{"row":"PV4","lfc":-0.1,"w":14},{"row":"PV4","lfc":1.2,"w":3},{"row":"PV5","lfc":-1.35,"w":3},{"row":"PV5","lfc":-0.3,"w":14},{"row":"PV5","lfc":1.1,"w":2},{"row":"VEV","lfc":-1.4,"w":7},{"row":"VEV","lfc":-0.1,"w":14},{"row":"VEV","lfc":1.2,"w":8},{"row":"VEC","lfc":-1.35,"w":10},{"row":"VEC","lfc":-0.1,"w":14},{"row":"VEC","lfc":1.1,"w":2},{"row":"VEA","lfc":-1.3,"w":10},{"row":"VEA","lfc":0,"w":14},{"row":"VEA","lfc":1.25,"w":4},{"row":"VEAT","lfc":-1.35,"w":3},{"row":"VEAT","lfc":0,"w":14},{"row":"VEAT","lfc":1.3,"w":4},{"row":"LE1","lfc":-0.95,"w":3},{"row":"LE1","lfc":0.3,"w":13},{"row":"LE1","lfc":1.2,"w":5},{"row":"LE2","lfc":-1.4,"w":3},{"row":"LE2","lfc":-0.2,"w":9},{"row":"LE2","lfc":1.3,"w":3},{"row":"CD4 naive","lfc":-0.4,"w":3},{"row":"CD4 naive","lfc":0.6,"w":9},{"row":"CD4 naive","lfc":1.55,"w":3},{"row":"CD4 Th","lfc":-0.8,"w":2},{"row":"CD4 Th","lfc":0.6,"w":9},{"row":"CD4 Th","lfc":1.5,"w":3},{"row":"CD8 Tem","lfc":-0.7,"w":3},{"row":"CD8 Tem","lfc":0.6,"w":9},{"row":"CD8 Tem","lfc":1.3,"w":6},{"row":"CD8 Trm","lfc":-1.7,"w":2},{"row":"CD8 Trm","lfc":0.2,"w":10},{"row":"CD8 Trm","lfc":1.45,"w":5},{"row":"CD8 Tc1","lfc":-1,"w":2},{"row":"CD8 Tc1","lfc":0.3,"w":8},{"row":"CD8 Tc1","lfc":1.6,"w":3},{"row":"B naive","lfc":-1.4,"w":6},{"row":"B naive","lfc":-0.8,"w":9},{"row":"B naive","lfc":0.2,"w":5},{"row":"B mem switched","lfc":-1.25,"w":3},{"row":"B mem switched","lfc":-0.2,"w":10},{"row":"B mem switched","lfc":0.8,"w":5},{"row":"Macro","lfc":-1.7,"w":2},{"row":"Macro","lfc":-0.2,"w":10},{"row":"Macro","lfc":1.5,"w":3}],
"dDep":[{"row":"LASP1","lfc":-1.45,"w":3},{"row":"LASP1","lfc":-1.9,"w":3},{"row":"LASP2","lfc":-1.6,"w":3},{"row":"LASP2","lfc":-3,"w":3},{"row":"LASP3","lfc":-1.45,"w":5},{"row":"LASP3","lfc":-2.95,"w":3},{"row":"LASP4","lfc":-1.3,"w":6},{"row":"LASP4","lfc":-2.7,"w":3},{"row":"LHS1","lfc":-1.4,"w":5},{"row":"LHS1","lfc":-3.7,"w":3},{"row":"LHS2","lfc":-1.4,"w":10},{"row":"LHS2","lfc":-3.8,"w":4},{"row":"LHS3","lfc":-1.4,"w":3},{"row":"LHS3","lfc":-2.2,"w":3},{"row":"BMYO1","lfc":-1.4,"w":3},{"row":"BMYO1","lfc":-2.75,"w":3},{"row":"FB1","lfc":-1.4,"w":3},{"row":"FB1","lfc":-2.7,"w":3},{"row":"FB2","lfc":-1.3,"w":3},{"row":"FB2","lfc":-2.75,"w":3},{"row":"FB3","lfc":-1.35,"w":3},{"row":"FB3","lfc":-2.3,"w":3},{"row":"PV1","lfc":-1.35,"w":3},{"row":"PV1","lfc":-2.4,"w":3},{"row":"PV2","lfc":-1.35,"w":2},{"row":"PV2","lfc":-2.05,"w":3},{"row":"PV3","lfc":-1.35,"w":7},{"row":"PV3","lfc":-3.45,"w":3},{"row":"PV4","lfc":-1.25,"w":8},{"row":"PV4","lfc":-2.75,"w":2},{"row":"PV5","lfc":-1.35,"w":3},{"row":"PV5","lfc":-2.35,"w":2},{"row":"VEV","lfc":-1.4,"w":6},{"row":"VEV","lfc":-2.9,"w":2},{"row":"VEC","lfc":-1.35,"w":7},{"row":"VEC","lfc":-2.9,"w":2},{"row":"VEA","lfc":-1.3,"w":9},{"row":"VEA","lfc":-3.05,"w":2},{"row":"VEAT","lfc":-1.35,"w":4},{"row":"VEAT","lfc":-2.4,"w":3},{"row":"LE2","lfc":-1.4,"w":3},{"row":"LE2","lfc":-1.7,"w":3}],
"dEnr":[{"row":"LASP1","lfc":1.3,"w":3},{"row":"LASP1","lfc":2.05,"w":3},{"row":"LASP3","lfc":1.25,"w":3},{"row":"LASP3","lfc":1.7,"w":3},{"row":"LHS1","lfc":1.35,"w":3},{"row":"LHS1","lfc":3,"w":3},{"row":"LHS3","lfc":1.2,"w":3},{"row":"LHS3","lfc":1.95,"w":3},{"row":"BMYO1","lfc":1.35,"w":3},{"row":"BMYO1","lfc":2.6,"w":3},{"row":"FB1","lfc":1.2,"w":3},{"row":"FB1","lfc":3.4,"w":3},{"row":"FB2","lfc":1.2,"w":5},{"row":"FB2","lfc":3.65,"w":3},{"row":"FB3","lfc":1.2,"w":3},{"row":"FB3","lfc":2.25,"w":3},{"row":"FB4","lfc":1.2,"w":7},{"row":"FB4","lfc":2.45,"w":3},{"row":"PV1","lfc":1.25,"w":6},{"row":"PV1","lfc":3.35,"w":3},{"row":"PV2","lfc":1.15,"w":7},{"row":"PV2","lfc":2.9,"w":3},{"row":"PV3","lfc":1.25,"w":3},{"row":"PV3","lfc":1.85,"w":3},{"row":"PV4","lfc":1.2,"w":3},{"row":"PV4","lfc":2.35,"w":3},{"row":"VEV","lfc":1.2,"w":5},{"row":"VEV","lfc":3.25,"w":3},{"row":"VEA","lfc":1.25,"w":9},{"row":"VEA","lfc":3.35,"w":3},{"row":"VEAT","lfc":1.3,"w":6},{"row":"VEAT","lfc":3.55,"w":3},{"row":"LE1","lfc":1.2,"w":7},{"row":"LE1","lfc":2.35,"w":3},{"row":"LE2","lfc":1.3,"w":4},{"row":"LE2","lfc":1.85,"w":3},{"row":"CD8 Trm","lfc":1.45,"w":5},{"row":"CD8 Trm","lfc":2.2,"w":3},{"row":"CD8 Tc1","lfc":1.6,"w":3},{"row":"CD8 Tc1","lfc":2.1,"w":3}],
"dDots":[{"row":"LASP1","lfc":-3.07},{"row":"LASP1","lfc":-2.81},{"row":"LASP1","lfc":-2.5},{"row":"LASP1","lfc":-2.35},{"row":"LASP1","lfc":-2.14},{"row":"LASP2","lfc":-3.18},{"row":"LASP2","lfc":-3.07},{"row":"LASP3","lfc":-4.05},{"row":"LASP3","lfc":-3.86},{"row":"LASP3","lfc":-3.58},{"row":"LASP3","lfc":-3.32},{"row":"LASP3","lfc":-3.15},{"row":"LASP4","lfc":-3.49},{"row":"LASP4","lfc":-3.3},{"row":"LASP4","lfc":-3.07},{"row":"LASP4","lfc":-2.94},{"row":"LHS1","lfc":-4.39},{"row":"LHS1","lfc":-4.25},{"row":"LHS1","lfc":-4.14},{"row":"LHS1","lfc":-3.96},{"row":"LHS1","lfc":-3.79},{"row":"LHS2","lfc":-4},{"row":"LHS2","lfc":-3.95},{"row":"LHS3","lfc":-3.36},{"row":"LHS3","lfc":-3.28},{"row":"LHS3","lfc":-2.98},{"row":"LHS3","lfc":-2.77},{"row":"LHS3","lfc":-2.56},{"row":"LHS3","lfc":-2.39},{"row":"BMYO1","lfc":-3.47},{"row":"BMYO1","lfc":-3.11},{"row":"BMYO1","lfc":-2.84},{"row":"BMYO2","lfc":-2.01},{"row":"BMYO2","lfc":-1.84},{"row":"BMYO2","lfc":-1.5},{"row":"BMYO2","lfc":-1.33},{"row":"FB1","lfc":-3.62},{"row":"FB1","lfc":-2.98},{"row":"FB1","lfc":-2.86},{"row":"FB2","lfc":-3.58},{"row":"FB2","lfc":-3.36},{"row":"FB2","lfc":-2.98},{"row":"FB2","lfc":-2.86},{"row":"FB3","lfc":-2.92},{"row":"FB4","lfc":-1.78},{"row":"FB4","lfc":-1.58},{"row":"FB4","lfc":-1.42},{"row":"FB4","lfc":-1.29},{"row":"PV1","lfc":-2.77},{"row":"PV1","lfc":-2.58},{"row":"PV2","lfc":-2.39},{"row":"PV2","lfc":-2.31},{"row":"PV3","lfc":-3.59},{"row":"PV4","lfc":-3.19},{"row":"PV4","lfc":-3.07},{"row":"PV4","lfc":-2.86},{"row":"PV5","lfc":-2.64},{"row":"VEV","lfc":-3.11},{"row":"VEV","lfc":-3},{"row":"VEC","lfc":-3.22},{"row":"VEC","lfc":-3.03},{"row":"VEA","lfc":-3.64},{"row":"VEA","lfc":-3.36},{"row":"VEA","lfc":-3.22},{"row":"VEA","lfc":-3.08},{"row":"VEAT","lfc":-2.88},{"row":"VEAT","lfc":-2.69},{"row":"LE2","lfc":-2.69},{"row":"CD4 Th","lfc":-2.47},{"row":"CD8 Trm","lfc":-2.39},{"row":"CD8 Trm","lfc":-2.24},{"row":"CD8 Trm","lfc":-2.03},{"row":"CD8 Trm","lfc":-1.86},{"row":"CD8 Tc1","lfc":-3.45},{"row":"CD8 Tc1","lfc":-3.13},{"row":"CD8 Tc1","lfc":-2.64},{"row":"CD8 Tc1","lfc":-2.53},{"row":"CD8 Tc1","lfc":-2.31},{"row":"CD8 Tc1","lfc":-2.09},{"row":"CD8 Tc1","lfc":-1.88},{"row":"B naive","lfc":-2.53},{"row":"B naive","lfc":-2.14},{"row":"B naive","lfc":-1.92},{"row":"B naive","lfc":-1.8},{"row":"B mem switched","lfc":-2.18},{"row":"B mem switched","lfc":-2.05},{"row":"B mem switched","lfc":-1.9},{"row":"B mem switched","lfc":-1.75},{"row":"Plasma cell","lfc":-1.76},{"row":"Macro","lfc":-2.69},{"row":"Macro","lfc":-2.58},{"row":"Macro","lfc":-2.35},{"row":"Macro","lfc":-2.22},{"row":"Macro","lfc":-2.09},{"row":"Macro","lfc":-1.88},
{"row":"LASP1","lfc":2.25},{"row":"LASP1","lfc":2.4},{"row":"LASP1","lfc":2.5},{"row":"LASP2","lfc":1.38},{"row":"LASP2","lfc":1.51},{"row":"LASP2","lfc":1.66},{"row":"LASP3","lfc":1.81},{"row":"LASP3","lfc":2.02},{"row":"LASP3","lfc":2.27},{"row":"LHS1","lfc":3.1},{"row":"LHS1","lfc":3.22},{"row":"LHS2","lfc":1.21},{"row":"LHS2","lfc":1.47},{"row":"LHS2","lfc":1.64},{"row":"LHS2","lfc":1.85},{"row":"LHS2","lfc":2.04},{"row":"LHS2","lfc":2.25},{"row":"LHS3","lfc":2.03},{"row":"LHS3","lfc":2.31},{"row":"BMYO1","lfc":2.71},{"row":"BMYO1","lfc":2.86},{"row":"BMYO1","lfc":3.12},{"row":"BMYO1","lfc":3.37},{"row":"BMYO1","lfc":3.54},{"row":"BMYO1","lfc":3.67},{"row":"BMYO1","lfc":3.77},{"row":"BMYO1","lfc":3.88},{"row":"FB1","lfc":3.5},{"row":"FB1","lfc":3.75},{"row":"FB1","lfc":3.97},{"row":"FB2","lfc":3.8},{"row":"FB2","lfc":4.03},{"row":"FB2","lfc":4.15},{"row":"FB3","lfc":2.44},{"row":"FB3","lfc":2.74},{"row":"FB3","lfc":3.06},{"row":"FB4","lfc":2.57},{"row":"FB4","lfc":2.69},{"row":"FB4","lfc":2.8},{"row":"PV1","lfc":3.68},{"row":"PV3","lfc":2.06},{"row":"PV4","lfc":2.5},{"row":"PV4","lfc":2.73},{"row":"PV5","lfc":1.21},{"row":"PV5","lfc":1.42},{"row":"VEV","lfc":3.42},{"row":"VEV","lfc":3.53},{"row":"VEC","lfc":1.25},{"row":"VEC","lfc":1.42},{"row":"VEC","lfc":1.55},{"row":"VEC","lfc":2.21},{"row":"VEAT","lfc":3.84},{"row":"VEAT","lfc":3.97},{"row":"LE1","lfc":2.65},{"row":"LE1","lfc":2.85},{"row":"LE1","lfc":3.25},{"row":"LE2","lfc":2.1},{"row":"LE2","lfc":2.29},{"row":"CD4 naive","lfc":1.68},{"row":"CD4 naive","lfc":1.89},{"row":"CD4 naive","lfc":2.06},{"row":"CD4 Th","lfc":1.64},{"row":"CD4 Th","lfc":1.85},{"row":"CD4 Th","lfc":1.97},{"row":"CD8 Tem","lfc":1.51},{"row":"CD8 Tem","lfc":1.62},{"row":"CD8 Tem","lfc":1.93},{"row":"CD8 Trm","lfc":2.34},{"row":"CD8 Trm","lfc":2.58},{"row":"CD8 Tc1","lfc":2.31},{"row":"CD8 Tc1","lfc":2.53},{"row":"Macro","lfc":1.65},{"row":"Macro","lfc":1.95},{"row":"Macro","lfc":2.13},{"row":"Macro","lfc":2.4}],
"dGreyDots":[{"row":"LASP4","lfc":0.53},{"row":"LASP4","lfc":0.75},{"row":"LASP4","lfc":1},{"row":"BMYO2","lfc":0.7},{"row":"BMYO2","lfc":1.08},{"row":"CD4 naive","lfc":-2.07},{"row":"CD4 naive","lfc":-1.61},{"row":"CD4 naive","lfc":-0.69},{"row":"CD4 naive","lfc":-0.44},{"row":"CD4 Th","lfc":-1.47},{"row":"CD4 Th","lfc":-1.22},{"row":"CD4 Th","lfc":-0.78},{"row":"CD4 Th","lfc":-0.53},{"row":"CD8 Tem","lfc":-1.1},{"row":"CD8 Tem","lfc":-0.78},{"row":"CD8 Tem","lfc":-0.61},{"row":"CD8 Tem","lfc":-0.36},{"row":"CD8 Tem","lfc":-0.14},{"row":"CD8 Tc1","lfc":-1.69},{"row":"CD8 Tc1","lfc":-1.46},{"row":"CD8 Tc1","lfc":-1.33},{"row":"NKT","lfc":-0.78},{"row":"NKT","lfc":-0.53},{"row":"NKT","lfc":-0.31},{"row":"NKT","lfc":-0.14},{"row":"NKT","lfc":0.03},{"row":"NKT","lfc":0.28},{"row":"NKT","lfc":0.49},{"row":"NKT","lfc":0.7},{"row":"NKT","lfc":1.04},{"row":"NK","lfc":-0.31},{"row":"NK","lfc":-0.14},{"row":"NK","lfc":-0.02},{"row":"NK","lfc":0.11},{"row":"NK","lfc":0.24},{"row":"NK","lfc":0.41},{"row":"NK","lfc":0.62},{"row":"NK","lfc":0.83},{"row":"ILC","lfc":-1.73},{"row":"ILC","lfc":-1.27},{"row":"ILC","lfc":-1.12},{"row":"ILC","lfc":-0.27},{"row":"ILC","lfc":-0.1},{"row":"ILC","lfc":0.15},{"row":"ILC","lfc":0.36},{"row":"ILC","lfc":0.58},{"row":"ILC","lfc":0.93},{"row":"B naive","lfc":-1.58},{"row":"B naive","lfc":0.2},{"row":"B naive","lfc":0.47},{"row":"B naive","lfc":0.7},{"row":"B mem switched","lfc":-1.63},{"row":"B mem switched","lfc":-1.46},{"row":"B mem switched","lfc":0.92},{"row":"B mem switched","lfc":1.19},{"row":"B mem unswitched","lfc":-1.1},{"row":"B mem unswitched","lfc":-0.91},{"row":"B mem unswitched","lfc":-0.65},{"row":"B mem unswitched","lfc":-0.44},{"row":"B mem unswitched","lfc":-0.27},{"row":"B mem unswitched","lfc":-0.06},{"row":"B mem unswitched","lfc":0.15},{"row":"B mem unswitched","lfc":0.41},{"row":"B mem unswitched","lfc":0.7},{"row":"Plasma cell","lfc":-1.63},{"row":"Plasma cell","lfc":-1.43},{"row":"Plasma cell","lfc":-1.03},{"row":"Plasma cell","lfc":-0.74},{"row":"Plasma cell","lfc":-0.48},{"row":"Plasma cell","lfc":-0.1},{"row":"Plasma cell","lfc":0.2},{"row":"Plasma cell","lfc":0.49},{"row":"Plasma cell","lfc":0.83},{"row":"Plasma cell","lfc":1.19},{"row":"DC","lfc":-1.36},{"row":"DC","lfc":-0.95},{"row":"DC","lfc":-0.82},{"row":"DC","lfc":-0.57},{"row":"DC","lfc":-0.23},{"row":"DC","lfc":0.03},{"row":"DC","lfc":0.36},{"row":"DC","lfc":0.58},{"row":"DC","lfc":0.79},{"row":"DC","lfc":1.08},{"row":"DC","lfc":1.21}]
},
"resolve":{"scale":{"fill":"independent","color":"independent","size":"independent"}},"spacing":-13,
"hconcat":[{"spacing":0,"resolve":{"scale":{"fill":"independent","color":"independent","size":"independent"}},"vconcat":[
{"width":1340,"height":420,"encoding":{"x":{"field":"x","type":"quantitative","axis":null,"scale":{"domain":[0,1340],"nice":false,"zero":false}},"y":{"field":"y","type":"quantitative","axis":null,"scale":{"domain":[420,0],"nice":false,"zero":false}}},"layer":[
{"data":{"name":"outlines"},"mark":{"type":"line","interpolate":"cardinal-closed","strokeWidth":0},"encoding":{"order":{"field":"n"},"fill":{"field":"region","type":"nominal","scale":{"domain":["LASP1","LASP2","LASP3","LASP4","LHS1","LHS2","LHS3","BMYO1","BMYO2","DDC2","DDC1","VEV","VEAT","VEA","VEC","PV2","PV3","PV5","PV1","PV4","FB4","FB2","FB1","FB3","LEC2","LEC1","CD8 Trm","CD8 Tc1","CD4 Th","CD4 naive","CD8 Tem","NKT","NK","ILC","Macro","DC","Plasma cell","B naive","B mem switched","B mem unswitched"],"range":["#b85cd6","#9055bb","#b455d0","#eccdf0","#ee90c4","#f47fae","#b95a92","#f4617d","#e89aa4","#ffffff","#ffffff","#f3dc80","#c9a53a","#f6c850","#a8973a","#f6ab6a","#ef8455","#e87c4e","#f47e40","#f8c9aa","#cb958e","#bb3a2e","#f3aaa3","#94503f","#5f84da","#a9c6f1","#9dd552","#a9c34d","#449030","#5cb042","#8bd163","#d8e8aa","#7a9a50","#a9c163","#72e0a2","#4470aa","#58e6cd","#3580da","#a3d6f5","#6ab1ea"]}}}},
{"data":{"name":"spots"},"transform":[{"filter":"datum.panel=='top'"}],"mark":{"type":"circle","opacity":0.22},"encoding":{"size":{"field":"size","type":"quantitative","scale":null},"color":{"field":"tone","type":"nominal","scale":{"domain":["grey","violet","plum","rose","brick","forest","azure","ink"],"range":["#b8bfbf","#8e28c0","#6a329f","#f03a70","#8c140c","#1f6e1c","#1668d8","#2a0050"]}}}},
{"data":{"name":"outlines"},"mark":{"type":"line","interpolate":"cardinal-closed","stroke":"#151515","strokeWidth":2.4,"strokeDash":[7,5]},"encoding":{"order":{"field":"n"},"detail":{"field":"region"}}},
{"data":{"name":"umapAxes"},"transform":[{"filter":"datum.panel=='a'||datum.panel=='b'||datum.panel=='c'"}],"mark":{"type":"line","stroke":"#a9b5b5","strokeWidth":1.5},"encoding":{"order":{"field":"n"},"detail":{"field":"panel"}}},
{"data":{"name":"umapLabels"},"transform":[{"filter":"datum.panel=='top'"}],"mark":{"type":"text","fontSize":15,"color":"#a3b0b0"},"encoding":{"text":{"field":"axis"},"angle":{"field":"axis","type":"nominal","scale":{"domain":["UMAP1","UMAP2"],"range":[0,270]}}}},
{"data":{"name":"labels"},"mark":{"type":"text","fontWeight":"bold","color":"#141414","baseline":"middle"},"encoding":{"text":{"field":"text"},"size":{"field":"kind","type":"ordinal","scale":{"domain":["title","label"],"range":[29,16.5]}}}}
]},
{"spacing":0,"resolve":{"scale":{"fill":"independent","color":"independent","size":"independent"}},"hconcat":[{"spacing":0,"resolve":{"scale":{"fill":"independent","color":"independent","size":"independent"}},"vconcat":[
{"width":1105,"height":110,"data":{"values":[{"text":"Neighbourhood differential abundance analysis - HR BRCA1","x":582,"y":466,"kind":"headline"},{"text":"a","x":87,"y":499,"kind":"tag"}]},"mark":{"type":"text","fontWeight":"bold","color":"#141414"},"encoding":{"x":{"field":"x","type":"quantitative","axis":null,"scale":{"domain":[0,1105],"nice":false,"zero":false}},"y":{"field":"y","type":"quantitative","axis":null,"scale":{"domain":[530,420],"nice":false,"zero":false}},"text":{"field":"text"},"size":{"field":"kind","type":"ordinal","scale":{"domain":["headline","tag"],"range":[32.5,34]}}}},
{"spacing":0,"resolve":{"scale":{"fill":"independent","color":"independent","size":"independent"}},"hconcat":[
{"width":400,"height":340,"encoding":{"x":{"field":"x","type":"quantitative","axis":null,"scale":{"domain":[-66.1,416.4],"nice":false,"zero":false}},"y":{"field":"y","type":"quantitative","axis":null,"scale":{"domain":[429.6,24.3],"nice":false,"zero":false}}},"layer":[
{"data":{"name":"outlines"},"transform":[{"filter":"datum.group=='epi'"}],"mark":{"type":"line","interpolate":"cardinal-closed","strokeWidth":0},"encoding":{"order":{"field":"n"},"fill":{"field":"region","type":"nominal","scale":{"domain":["LASP1","LASP2","LASP3","LASP4","LHS1","LHS2","LHS3","BMYO1","BMYO2","DDC2","DDC1"],"range":["#d9a9b0","#d6b4bb","#c9c9d0","#d6d6e4","#d8c8d2","#d8c8d2","#a9a9d6","#d8c6cc","#7a80d8","#ffffff","#ffffff"]}}}},
{"data":{"name":"spots"},"transform":[{"filter":"datum.panel=='epi2'"}],"mark":{"type":"circle","opacity":0.15},"encoding":{"size":{"field":"size","type":"quantitative","scale":null},"color":{"field":"tone","type":"nominal","scale":{"domain":["red","blue"],"range":["#c23a50","#4a50d0"]}}}},
{"data":{"name":"outlines"},"transform":[{"filter":"datum.group=='epi'"}],"mark":{"type":"line","interpolate":"cardinal-closed","stroke":"#151515","strokeWidth":2.4,"strokeDash":[7,5]},"encoding":{"order":{"field":"n"},"detail":{"field":"region"}}},
{"data":{"name":"umapAxes"},"transform":[{"filter":"datum.panel=='epi2'"}],"mark":{"type":"line","stroke":"#a9b5b5","strokeWidth":1.5},"encoding":{"order":{"field":"n"}}},
{"data":{"name":"umapLabels"},"transform":[{"filter":"datum.panel=='epi2'"}],"mark":{"type":"text","fontSize":15,"color":"#a3b0b0"},"encoding":{"text":{"field":"axis"},"angle":{"field":"axis","type":"nominal","scale":{"domain":["UMAP1","UMAP2"],"range":[0,270]}}}}]},
{"width":330,"height":340,"encoding":{"x":{"field":"x","type":"quantitative","axis":null,"scale":{"domain":[417.9,813.5],"nice":false,"zero":false}},"y":{"field":"y","type":"quantitative","axis":null,"scale":{"domain":[429,24.3],"nice":false,"zero":false}}},"layer":[
{"data":{"name":"outlines"},"transform":[{"filter":"datum.group=='str'"}],"mark":{"type":"line","interpolate":"cardinal-closed","strokeWidth":0},"encoding":{"order":{"field":"n"},"fill":{"field":"region","type":"nominal","scale":{"domain":["VEV","VEAT","VEA","VEC","PV2","PV3","PV5","PV1","PV4","FB4","FB2","FB1","FB3","LEC2","LEC1"],"range":["#c6c7e0","#cfd0de","#dcbcc2","#d4d0da","#dcdcdc","#dcc8d4","#dcd0d4","#d4c8d8","#dcc4cc","#c8cce4","#d6d6e0","#dcdce0","#ccc8e0","#d0d0e0","#d8d8e0"]}}}},
{"data":{"name":"spots"},"transform":[{"filter":"datum.panel=='str2'"}],"mark":{"type":"circle","opacity":0.15},"encoding":{"size":{"field":"size","type":"quantitative","scale":null},"color":{"field":"tone","type":"nominal","scale":{"domain":["red","blue"],"range":["#c23a50","#4a50d0"]}}}},
{"data":{"name":"outlines"},"transform":[{"filter":"datum.group=='str'"}],"mark":{"type":"line","interpolate":"cardinal-closed","stroke":"#151515","strokeWidth":2.4,"strokeDash":[7,5]},"encoding":{"order":{"field":"n"},"detail":{"field":"region"}}},
{"data":{"name":"umapAxes"},"transform":[{"filter":"datum.panel=='str2'"}],"mark":{"type":"line","stroke":"#a9b5b5","strokeWidth":1.5},"encoding":{"order":{"field":"n"}}},
{"data":{"name":"umapLabels"},"transform":[{"filter":"datum.panel=='str2'"}],"mark":{"type":"text","fontSize":15,"color":"#a3b0b0"},"encoding":{"text":{"field":"axis"},"angle":{"field":"axis","type":"nominal","scale":{"domain":["UMAP1","UMAP2"],"range":[0,270]}}}}]},
{"width":375,"height":340,"encoding":{"x":{"field":"x","type":"quantitative","axis":null,"scale":{"domain":[795.1,1252.4],"nice":false,"zero":false}},"y":{"field":"y","type":"quantitative","axis":null,"scale":{"domain":[434.1,23],"nice":false,"zero":false}}},"layer":[
{"data":{"name":"edges"},"mark":{"type":"line","stroke":"#e4e8e8","strokeWidth":2},"encoding":{"order":{"field":"n"},"detail":{"field":"edge"}}},
{"data":{"name":"outlines"},"transform":[{"filter":"datum.group=='imm'"}],"mark":{"type":"line","interpolate":"cardinal-closed","strokeWidth":0},"encoding":{"order":{"field":"n"},"fill":{"field":"region","type":"nominal","scale":{"domain":["CD8 Trm","CD8 Tc1","CD4 Th","CD4 naive","CD8 Tem","NKT","NK","ILC","Macro","DC","Plasma cell","B naive","B mem switched","B mem unswitched"],"range":["#b2b4d4","#bcc0da","#bcc0cc","#c2c4ca","#c6c8cc","#c8cacc","#d8d8d8","#ffffff","#c6c8ca","#d6d8da","#bec0c2","#bec0c2","#babcc2","#c2c4c6"]}}}},
{"data":{"name":"spots"},"transform":[{"filter":"datum.panel=='imm2'"}],"mark":{"type":"circle","opacity":0.15},"encoding":{"size":{"field":"size","type":"quantitative","scale":null},"color":{"field":"tone","type":"nominal","scale":{"domain":["red","blue"],"range":["#c23a50","#4a50d0"]}}}},
{"data":{"name":"outlines"},"transform":[{"filter":"datum.group=='imm'"}],"mark":{"type":"line","interpolate":"cardinal-closed","stroke":"#151515","strokeWidth":2.4,"strokeDash":[7,5]},"encoding":{"order":{"field":"n"},"detail":{"field":"region"}}},
{"data":{"name":"umapAxes"},"transform":[{"filter":"datum.panel=='imm2'"}],"mark":{"type":"line","stroke":"#a9b5b5","strokeWidth":1.5},"encoding":{"order":{"field":"n"}}},
{"data":{"name":"umapLabels"},"transform":[{"filter":"datum.panel=='imm2'"}],"mark":{"type":"text","fontSize":15,"color":"#a3b0b0"},"encoding":{"text":{"field":"axis"},"angle":{"field":"axis","type":"nominal","scale":{"domain":["UMAP1","UMAP2"],"range":[0,270]}}}}]}
]},
{"width":1105,"height":55,"data":{"values":[{"text":"Neighbourhood differential abundance analysis - HR BRCA2","x":582,"y":888,"kind":"headline"},{"text":"c","x":87,"y":906,"kind":"tag"}]},"mark":{"type":"text","fontWeight":"bold","color":"#141414"},"encoding":{"x":{"field":"x","type":"quantitative","axis":null,"scale":{"domain":[0,1105],"nice":false,"zero":false}},"y":{"field":"y","type":"quantitative","axis":null,"scale":{"domain":[925,870],"nice":false,"zero":false}},"text":{"field":"text"},"size":{"field":"kind","type":"ordinal","scale":{"domain":["headline","tag"],"range":[32.5,34]}}}},
{"spacing":0,"resolve":{"scale":{"fill":"independent","color":"independent","size":"independent"}},"hconcat":[
{"width":410,"height":355,"encoding":{"x":{"field":"x","type":"quantitative","axis":null,"scale":{"domain":[-83,411.6],"nice":false,"zero":false}},"y":{"field":"y","type":"quantitative","axis":null,"scale":{"domain":[440.9,16.7],"nice":false,"zero":false}}},"layer":[
{"data":{"name":"outlines"},"transform":[{"filter":"datum.group=='epi'"}],"mark":{"type":"line","interpolate":"cardinal-closed","strokeWidth":0},"encoding":{"order":{"field":"n"},"fill":{"field":"region","type":"nominal","scale":{"domain":["LASP1","LASP2","LASP3","LASP4","LHS1","LHS2","LHS3","BMYO1","BMYO2","DDC2","DDC1"],"range":["#d4d6d8","#d8ccd0","#d8bcc0","#e4d8dc","#d8c8d2","#d87c88","#d8d8e0","#dcd4d8","#e0e0e0","#ffffff","#ffffff"]}}}},
{"data":{"name":"spots"},"transform":[{"filter":"datum.panel=='epi3'"}],"mark":{"type":"circle","opacity":0.15},"encoding":{"size":{"field":"size","type":"quantitative","scale":null},"color":{"field":"tone","type":"nominal","scale":{"domain":["red","blue"],"range":["#c23a50","#4a50d0"]}}}},
{"data":{"name":"outlines"},"transform":[{"filter":"datum.group=='epi'"}],"mark":{"type":"line","interpolate":"cardinal-closed","stroke":"#151515","strokeWidth":2.4,"strokeDash":[7,5]},"encoding":{"order":{"field":"n"},"detail":{"field":"region"}}},
{"data":{"name":"umapAxes"},"transform":[{"filter":"datum.panel=='epi3'"}],"mark":{"type":"line","stroke":"#a9b5b5","strokeWidth":1.5},"encoding":{"order":{"field":"n"}}},
{"data":{"name":"umapLabels"},"transform":[{"filter":"datum.panel=='epi3'"}],"mark":{"type":"text","fontSize":15,"color":"#a3b0b0"},"encoding":{"text":{"field":"axis"},"angle":{"field":"axis","type":"nominal","scale":{"domain":["UMAP1","UMAP2"],"range":[0,270]}}}}]},
{"width":323,"height":355,"encoding":{"x":{"field":"x","type":"quantitative","axis":null,"scale":{"domain":[413.4,802.5],"nice":false,"zero":false}},"y":{"field":"y","type":"quantitative","axis":null,"scale":{"domain":[433.8,11.2],"nice":false,"zero":false}}},"layer":[
{"data":{"name":"outlines"},"transform":[{"filter":"datum.group=='str'"}],"mark":{"type":"line","interpolate":"cardinal-closed","strokeWidth":0},"encoding":{"order":{"field":"n"},"fill":{"field":"region","type":"nominal","scale":{"domain":["VEV","VEAT","VEA","VEC","PV2","PV3","PV5","PV1","PV4","FB4","FB2","FB1","FB3","LEC2","LEC1"],"range":["#c2c2e0","#bcc0e2","#d2cad2","#d8bcc4","#c8c8e0","#dcb8c0","#dcd4d8","#c2c2e0","#dcc2ca","#ccc8e4","#c8cce4","#d8d8e0","#d8ccd8","#d8d8dc","#c8c8e4"]}}}},
{"data":{"name":"spots"},"transform":[{"filter":"datum.panel=='str3'"}],"mark":{"type":"circle","opacity":0.15},"encoding":{"size":{"field":"size","type":"quantitative","scale":null},"color":{"field":"tone","type":"nominal","scale":{"domain":["red","blue"],"range":["#c23a50","#4a50d0"]}}}},
{"data":{"name":"outlines"},"transform":[{"filter":"datum.group=='str'"}],"mark":{"type":"line","interpolate":"cardinal-closed","stroke":"#151515","strokeWidth":2.4,"strokeDash":[7,5]},"encoding":{"order":{"field":"n"},"detail":{"field":"region"}}},
{"data":{"name":"umapAxes"},"transform":[{"filter":"datum.panel=='str3'"}],"mark":{"type":"line","stroke":"#a9b5b5","strokeWidth":1.5},"encoding":{"order":{"field":"n"}}},
{"data":{"name":"umapLabels"},"transform":[{"filter":"datum.panel=='str3'"}],"mark":{"type":"text","fontSize":15,"color":"#a3b0b0"},"encoding":{"text":{"field":"axis"},"angle":{"field":"axis","type":"nominal","scale":{"domain":["UMAP1","UMAP2"],"range":[0,270]}}}}]},
{"width":372,"height":355,"encoding":{"x":{"field":"x","type":"quantitative","axis":null,"scale":{"domain":[803.2,1256.8],"nice":false,"zero":false}},"y":{"field":"y","type":"quantitative","axis":null,"scale":{"domain":[449.8,20.6],"nice":false,"zero":false}}},"layer":[
{"data":{"name":"edges"},"mark":{"type":"line","stroke":"#e4e8e8","strokeWidth":2},"encoding":{"order":{"field":"n"},"detail":{"field":"edge"}}},
{"data":{"name":"outlines"},"transform":[{"filter":"datum.group=='imm'"}],"mark":{"type":"line","interpolate":"cardinal-closed","strokeWidth":0},"encoding":{"order":{"field":"n"},"fill":{"field":"region","type":"nominal","scale":{"domain":["CD8 Trm","CD8 Tc1","CD4 Th","CD4 naive","CD8 Tem","NKT","NK","ILC","Macro","DC","Plasma cell","B naive","B mem switched","B mem unswitched"],"range":["#ced2d4","#d4d6d8","#ccd0d2","#d0d4d4","#d0d4d4","#d4d6d6","#dadada","#ffffff","#ccd0d0","#dcdede","#ccd0d0","#ccd0d0","#c8ccce","#d0d2d2"]}}}},
{"data":{"name":"outlines"},"transform":[{"filter":"datum.group=='imm'"}],"mark":{"type":"line","interpolate":"cardinal-closed","stroke":"#151515","strokeWidth":2.4,"strokeDash":[7,5]},"encoding":{"order":{"field":"n"},"detail":{"field":"region"}}},
{"data":{"name":"umapAxes"},"transform":[{"filter":"datum.panel=='imm3'"}],"mark":{"type":"line","stroke":"#a9b5b5","strokeWidth":1.5},"encoding":{"order":{"field":"n"}}},
{"data":{"name":"umapLabels"},"transform":[{"filter":"datum.panel=='imm3'"}],"mark":{"type":"text","fontSize":15,"color":"#a3b0b0"},"encoding":{"text":{"field":"axis"},"angle":{"field":"axis","type":"nominal","scale":{"domain":["UMAP1","UMAP2"],"range":[0,270]}}}}]}
]}
]},
{"width":235,"height":860,"encoding":{"x":{"field":"x","type":"quantitative","axis":null,"scale":{"domain":[1105,1340],"nice":false,"zero":false}},"y":{"field":"y","type":"quantitative","axis":null,"scale":{"domain":[1280,420],"nice":false,"zero":false}}},"layer":[
{"data":{"values":[{"text":"Milo Legend","x":1110,"y":447}]},"mark":{"type":"text","align":"left","fontWeight":"bold","fontSize":33,"color":"#141414"},"encoding":{"text":{"field":"text"}}},
{"data":{"name":"legendText"},"mark":{"type":"text","align":"left","color":"#1c1c1c"},"encoding":{"text":{"field":"text"},"size":{"field":"kind","type":"ordinal","scale":{"domain":["sub","item","note"],"range":[27,21,20]}}}},
{"data":{"values":[{"nhood":100,"x":1138,"y":553},{"nhood":150,"x":1138,"y":587},{"nhood":200,"x":1138,"y":621}]},"mark":{"type":"point","shape":"circle","filled":true,"fill":"#f2f2f2","stroke":"#b5b5b5","strokeWidth":1.3,"opacity":1},"encoding":{"size":{"field":"nhood","type":"quantitative","scale":{"domain":[100,200],"range":[64,154]}}}},
{"data":{"values":[{"x":1122,"x2":1155,"y":746,"y2":915}]},"mark":{"type":"rect","fill":{"gradient":"linear","x1":0,"y1":0,"x2":0,"y2":1,"stops":[{"offset":0,"color":"#2233e0"},{"offset":0.5,"color":"#ffffff"},{"offset":1,"color":"#8c1a2c"}]}},"encoding":{"x2":{"field":"x2"},"y2":{"field":"y2"}}},
{"data":{"values":[{"overlap":20,"x":1124,"x2":1152,"y":1036},{"overlap":40,"x":1124,"x2":1152,"y":1070},{"overlap":60,"x":1124,"x2":1152,"y":1104},{"overlap":80,"x":1124,"x2":1152,"y":1138},{"overlap":100,"x":1124,"x2":1152,"y":1172}]},"mark":{"type":"rule","color":"#e4e8e8"},"encoding":{"x2":{"field":"x2"},"size":{"field":"overlap","type":"quantitative","scale":{"domain":[20,100],"range":[1.5,20]}}}}
]}
]}
]},
{"spacing":0,"resolve":{"scale":{"fill":"independent","color":"independent","size":"independent"}},"vconcat":[
{"width":684,"height":72,"encoding":{"x":{"field":"lfc","type":"quantitative","axis":null,"scale":{"domain":[-5.52,5.46],"nice":false,"zero":false}},"y":{"field":"y","type":"quantitative","axis":null,"scale":{"domain":[72,0],"nice":false,"zero":false}}},"layer":[
{"data":{"values":[{"lfc":-5.63,"end":-5.1,"y":44,"series":"Depleted"},{"lfc":0,"end":0.55,"y":44,"series":"Enriched"}]},"mark":{"type":"rule","strokeWidth":4},"encoding":{"x2":{"field":"end"},"color":{"field":"series","type":"nominal","scale":{"domain":["Depleted","Enriched"],"range":["#a53446","#8c8ce8"]}}}},
{"data":{"values":[{"lfc":-5.02,"y":44,"series":"Depleted"},{"lfc":0.6,"y":44,"series":"Enriched"}]},"mark":{"type":"circle","size":170,"opacity":1},"encoding":{"color":{"field":"series","type":"nominal","scale":{"domain":["Depleted","Enriched"],"range":["#a02c3c","#6a6ae8"]}}}},
{"data":{"values":[{"text":"Depleted in HR-BR1","lfc":-4.75,"y":44},{"text":"Enriched in HR-BR1","lfc":0.85,"y":44}]},"mark":{"type":"text","align":"left","fontWeight":"bold","fontSize":27.5,"color":"#111"},"encoding":{"text":{"field":"text"}}},
{"data":{"values":[{"text":"b","lfc":-7.26,"y":25}]},"mark":{"type":"text","fontWeight":"bold","fontSize":36,"color":"#111"},"encoding":{"text":{"field":"text"}}}]},
{"width":684,"height":514,"view":{"stroke":"#2f3a38","strokeWidth":2},"encoding":{"x":{"field":"lfc","type":"quantitative","scale":{"domain":[-5.52,5.46],"nice":false,"zero":false},"axis":{"values":[-5,-3.75,-2.5,-1.25,0,1.25,2.5,3.75,5],"labelExpr":"abs(datum.value)%2.5==0?format(datum.value,'.1f'):''","title":"Log Fold Change","titleFontSize":28,"titleFontWeight":"bold","titleColor":"#111","titlePadding":-4,"labelFontSize":15,"labelColor":"#555","tickColor":{"condition":{"test":"abs(datum.value)%2.5==0","value":"#333"},"value":"transparent"},"grid":true,"gridColor":"#e6eae8","domain":false,"labelFlush":false,"labelOverlap":false}},"y":{"field":"row","type":"nominal","scale":{"type":"point","padding":0.5,"domain":["LASP1","LASP2","LASP3","LASP4","LHS1","LHS2","LHS3","BMYO1","BMYO2","FB1","FB2","FB3","FB4","PV1","PV2","PV3","PV4","PV5","VEV","VEC","VEA","VEAT","LE1","LE2","CD4 naive","CD4 Th","CD8 Tem","CD8 Trm","CD8 Tc1","NKT","NK","ILC","B naive","B mem switched","B mem unswitched","Plasma cell","Macro","DC"]},"axis":{"title":null,"grid":true,"gridColor":"#edf0ef","gridWidth":3,"domain":false,"tickColor":"#222","tickWidth":2,"tickSize":5,"labelFontSize":16.5,"labelColor":"#3a3a3a","labelPadding":2,"labelOverlap":false,"labelBound":false}}},"layer":[
{"data":{"name":"bDep"},"mark":{"type":"trail","fill":{"gradient":"linear","x1":0,"x2":1,"y1":0,"y2":0,"stops":[{"offset":0,"color":"#b5324a"},{"offset":1,"color":"#eeb0bf"}]}},"encoding":{"detail":{"field":"row"},"order":{"field":"lfc"},"size":{"field":"w","type":"quantitative","scale":{"domain":[0,20],"range":[0,24]}}}},
{"data":{"name":"bEnr"},"mark":{"type":"trail","fill":{"gradient":"linear","x1":0,"x2":1,"y1":0,"y2":0,"stops":[{"offset":0,"color":"#c8c8f2"},{"offset":1,"color":"#4a4ac8"}]}},"encoding":{"detail":{"field":"row"},"order":{"field":"lfc"},"size":{"field":"w","type":"quantitative","scale":{"domain":[0,20],"range":[0,24]}}}},
{"data":{"name":"bGrey"},"mark":{"type":"trail","color":"#737b7a"},"encoding":{"detail":{"field":"row"},"order":{"field":"lfc"},"size":{"field":"w","type":"quantitative","scale":{"domain":[0,20],"range":[0,28]}}}},
{"data":{"name":"bDots"},"mark":{"type":"circle","size":26,"opacity":1},"encoding":{"color":{"field":"lfc","type":"quantitative","scale":{"domain":[-4.5,-1.3,0,1.3,4.5],"range":["#9c1a2e","#eaa8b8","#ffffff","#c8c8f2","#3c3cc0"]}}}},
{"data":{"name":"bGreyDots"},"mark":{"type":"circle","size":38,"opacity":1,"color":"#737b7a"}}
]},
{"width":684,"height":71,"encoding":{"x":{"field":"lfc","type":"quantitative","axis":null,"scale":{"domain":[-5.52,5.46],"nice":false,"zero":false}},"y":{"field":"y","type":"quantitative","axis":null,"scale":{"domain":[709,638],"nice":false,"zero":false}}},"layer":[
{"data":{"values":[{"lfc":-5.63,"end":-5.1,"y":685,"series":"Depleted"},{"lfc":0,"end":0.55,"y":685,"series":"Enriched"}]},"mark":{"type":"rule","strokeWidth":4},"encoding":{"x2":{"field":"end"},"color":{"field":"series","type":"nominal","scale":{"domain":["Depleted","Enriched"],"range":["#a53446","#8c8ce8"]}}}},
{"data":{"values":[{"lfc":-5.02,"y":685,"series":"Depleted"},{"lfc":0.6,"y":685,"series":"Enriched"}]},"mark":{"type":"circle","size":170,"opacity":1},"encoding":{"color":{"field":"series","type":"nominal","scale":{"domain":["Depleted","Enriched"],"range":["#a02c3c","#6a6ae8"]}}}},
{"data":{"values":[{"text":"Depleted in HR-BR2","lfc":-4.75,"y":685},{"text":"Enriched in HR-BR2","lfc":0.85,"y":685}]},"mark":{"type":"text","align":"left","fontWeight":"bold","fontSize":27.5,"color":"#111"},"encoding":{"text":{"field":"text"}}},
{"data":{"values":[{"text":"d","lfc":-7.26,"y":672}]},"mark":{"type":"text","fontWeight":"bold","fontSize":36,"color":"#111"},"encoding":{"text":{"field":"text"}}}]},
{"width":684,"height":514,"view":{"stroke":"#2f3a38","strokeWidth":2},"encoding":{"x":{"field":"lfc","type":"quantitative","scale":{"domain":[-5.52,5.46],"nice":false,"zero":false},"axis":{"values":[-5,-3.75,-2.5,-1.25,0,1.25,2.5,3.75,5],"labelExpr":"abs(datum.value)%2.5==0?format(datum.value,'.1f'):''","title":"Log Fold Change","titleFontSize":28,"titleFontWeight":"bold","titleColor":"#111","titlePadding":-4,"labelFontSize":15,"labelColor":"#555","tickColor":{"condition":{"test":"abs(datum.value)%2.5==0","value":"#333"},"value":"transparent"},"grid":true,"gridColor":"#e6eae8","domain":false,"labelFlush":false,"labelOverlap":false}},"y":{"field":"row","type":"nominal","scale":{"type":"point","padding":0.5,"domain":["LASP1","LASP2","LASP3","LASP4","LHS1","LHS2","LHS3","BMYO1","BMYO2","FB1","FB2","FB3","FB4","PV1","PV2","PV3","PV4","PV5","VEV","VEC","VEA","VEAT","LE1","LE2","CD4 naive","CD4 Th","CD8 Tem","CD8 Trm","CD8 Tc1","NKT","NK","ILC","B naive","B mem switched","B mem unswitched","Plasma cell","Macro","DC"]},"axis":{"title":null,"grid":true,"gridColor":"#edf0ef","gridWidth":3,"domain":false,"tickColor":"#222","tickWidth":2,"tickSize":5,"labelFontSize":16.5,"labelColor":"#3a3a3a","labelPadding":2,"labelOverlap":false,"labelBound":false}}},"layer":[
{"data":{"name":"dDep"},"mark":{"type":"trail","fill":{"gradient":"linear","x1":0,"x2":1,"y1":0,"y2":0,"stops":[{"offset":0,"color":"#b5324a"},{"offset":1,"color":"#eeb0bf"}]}},"encoding":{"detail":{"field":"row"},"order":{"field":"lfc"},"size":{"field":"w","type":"quantitative","scale":{"domain":[0,20],"range":[0,24]}}}},
{"data":{"name":"dEnr"},"mark":{"type":"trail","fill":{"gradient":"linear","x1":0,"x2":1,"y1":0,"y2":0,"stops":[{"offset":0,"color":"#c8c8f2"},{"offset":1,"color":"#4a4ac8"}]}},"encoding":{"detail":{"field":"row"},"order":{"field":"lfc"},"size":{"field":"w","type":"quantitative","scale":{"domain":[0,20],"range":[0,24]}}}},
{"data":{"name":"dGrey"},"mark":{"type":"trail","color":"#737b7a"},"encoding":{"detail":{"field":"row"},"order":{"field":"lfc"},"size":{"field":"w","type":"quantitative","scale":{"domain":[0,20],"range":[0,28]}}}},
{"data":{"name":"dDots"},"mark":{"type":"circle","size":26,"opacity":1},"encoding":{"color":{"field":"lfc","type":"quantitative","scale":{"domain":[-4.5,-1.3,0,1.3,4.5],"range":["#9c1a2e","#eaa8b8","#ffffff","#c8c8f2","#3c3cc0"]}}}},
{"data":{"name":"dGreyDots"},"mark":{"type":"circle","size":38,"opacity":1,"color":"#737b7a"}}
]}
]}]}
